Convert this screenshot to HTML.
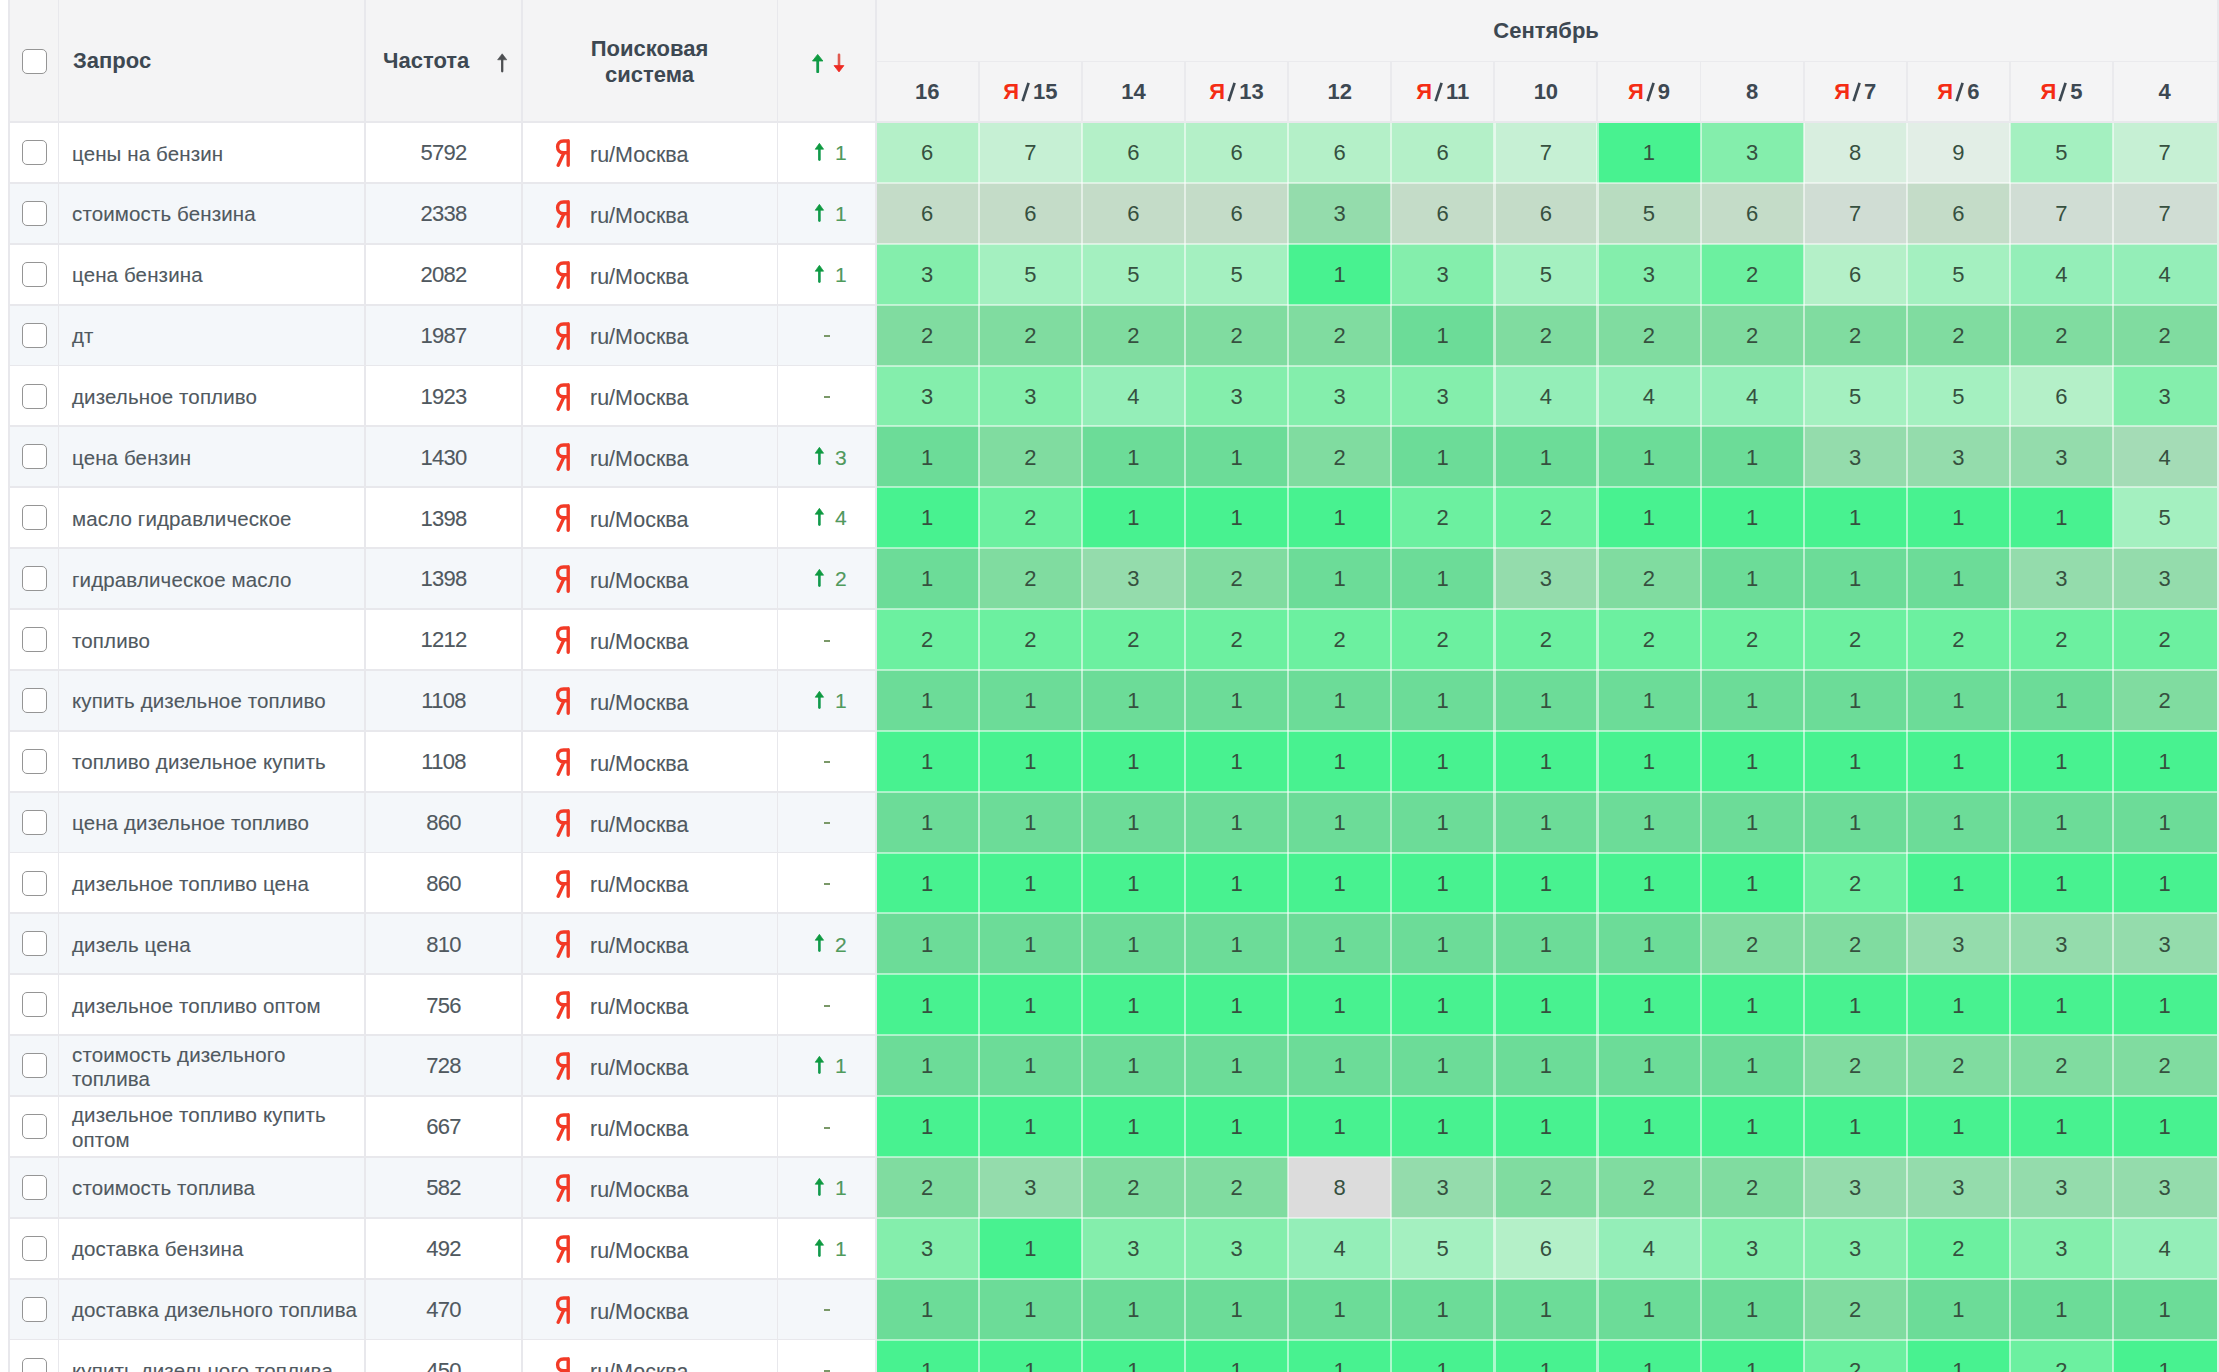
<!DOCTYPE html><html><head><meta charset="utf-8"><style>
html,body{margin:0;padding:0;background:#fff;width:2219px;height:1372px;overflow:hidden;position:relative}
*{box-sizing:border-box}
body{font-family:"Liberation Sans",sans-serif;}
.a{position:absolute}
.hb{position:absolute;background:#f4f4f5}
.vl{position:absolute;width:1.9px;background:#e8e8ec}
.hl{position:absolute;height:1.9px;background:#e8e8ec}
.cb{position:absolute;width:25px;height:25px;border:1.8px solid #959595;border-radius:5px;background:#fff}
.ht{position:absolute;font-weight:700;font-size:22px;color:#3d4852;white-space:nowrap;line-height:26px}
.bt{position:absolute;font-size:20.5px;color:#50595f;white-space:nowrap;line-height:24px;-webkit-text-stroke:0.1px #50595f}
.c{position:absolute;text-align:center;font-size:22px;color:#36503f;line-height:24px}
.ya{position:absolute;width:16px;height:28px}
.red{color:#f42c14}

</style></head><body>
<div class="hb" style="left:9px;top:0;width:2208px;height:122px"></div>
<div class="a" style="left:9px;top:122.00px;width:867px;height:60.88px;background:#ffffff"></div>
<div class="a" style="left:9px;top:182.88px;width:867px;height:60.88px;background:#f4f7fa"></div>
<div class="a" style="left:9px;top:243.76px;width:867px;height:60.88px;background:#ffffff"></div>
<div class="a" style="left:9px;top:304.64px;width:867px;height:60.88px;background:#f4f7fa"></div>
<div class="a" style="left:9px;top:365.52px;width:867px;height:60.88px;background:#ffffff"></div>
<div class="a" style="left:9px;top:426.40px;width:867px;height:60.88px;background:#f4f7fa"></div>
<div class="a" style="left:9px;top:487.28px;width:867px;height:60.88px;background:#ffffff"></div>
<div class="a" style="left:9px;top:548.16px;width:867px;height:60.88px;background:#f4f7fa"></div>
<div class="a" style="left:9px;top:609.04px;width:867px;height:60.88px;background:#ffffff"></div>
<div class="a" style="left:9px;top:669.92px;width:867px;height:60.88px;background:#f4f7fa"></div>
<div class="a" style="left:9px;top:730.80px;width:867px;height:60.88px;background:#ffffff"></div>
<div class="a" style="left:9px;top:791.68px;width:867px;height:60.88px;background:#f4f7fa"></div>
<div class="a" style="left:9px;top:852.56px;width:867px;height:60.88px;background:#ffffff"></div>
<div class="a" style="left:9px;top:913.44px;width:867px;height:60.88px;background:#f4f7fa"></div>
<div class="a" style="left:9px;top:974.32px;width:867px;height:60.88px;background:#ffffff"></div>
<div class="a" style="left:9px;top:1035.20px;width:867px;height:60.88px;background:#f4f7fa"></div>
<div class="a" style="left:9px;top:1096.08px;width:867px;height:60.88px;background:#ffffff"></div>
<div class="a" style="left:9px;top:1156.96px;width:867px;height:60.88px;background:#f4f7fa"></div>
<div class="a" style="left:9px;top:1217.84px;width:867px;height:60.88px;background:#ffffff"></div>
<div class="a" style="left:9px;top:1278.72px;width:867px;height:60.88px;background:#f4f7fa"></div>
<div class="a" style="left:9px;top:1339.60px;width:867px;height:60.88px;background:#ffffff"></div>
<div class="a" style="left:875.60px;top:122.00px;width:103.12px;height:60.88px;background:#b4f0c8"></div>
<div class="a" style="left:978.72px;top:122.00px;width:103.12px;height:60.88px;background:#c6f0d4"></div>
<div class="a" style="left:1081.84px;top:122.00px;width:103.12px;height:60.88px;background:#b4f0c8"></div>
<div class="a" style="left:1184.96px;top:122.00px;width:103.12px;height:60.88px;background:#b4f0c8"></div>
<div class="a" style="left:1288.08px;top:122.00px;width:103.12px;height:60.88px;background:#b4f0c8"></div>
<div class="a" style="left:1391.20px;top:122.00px;width:103.12px;height:60.88px;background:#b4f0c8"></div>
<div class="a" style="left:1494.32px;top:122.00px;width:103.12px;height:60.88px;background:#c6f0d4"></div>
<div class="a" style="left:1597.44px;top:122.00px;width:103.12px;height:60.88px;background:#48f290"></div>
<div class="a" style="left:1700.56px;top:122.00px;width:103.12px;height:60.88px;background:#84eeac"></div>
<div class="a" style="left:1803.68px;top:122.00px;width:103.12px;height:60.88px;background:#d8eedf"></div>
<div class="a" style="left:1906.80px;top:122.00px;width:103.12px;height:60.88px;background:#e2eee6"></div>
<div class="a" style="left:2009.92px;top:122.00px;width:103.12px;height:60.88px;background:#a4f0c0"></div>
<div class="a" style="left:2113.04px;top:122.00px;width:103.96px;height:60.88px;background:#c6f0d4"></div>
<div class="a" style="left:875.60px;top:182.88px;width:103.12px;height:60.88px;background:#c4dcc8"></div>
<div class="a" style="left:978.72px;top:182.88px;width:103.12px;height:60.88px;background:#c4dcc8"></div>
<div class="a" style="left:1081.84px;top:182.88px;width:103.12px;height:60.88px;background:#c4dcc8"></div>
<div class="a" style="left:1184.96px;top:182.88px;width:103.12px;height:60.88px;background:#c4dcc8"></div>
<div class="a" style="left:1288.08px;top:182.88px;width:103.12px;height:60.88px;background:#94dcac"></div>
<div class="a" style="left:1391.20px;top:182.88px;width:103.12px;height:60.88px;background:#c4dcc8"></div>
<div class="a" style="left:1494.32px;top:182.88px;width:103.12px;height:60.88px;background:#c4dcc8"></div>
<div class="a" style="left:1597.44px;top:182.88px;width:103.12px;height:60.88px;background:#b8dcc0"></div>
<div class="a" style="left:1700.56px;top:182.88px;width:103.12px;height:60.88px;background:#c4dcc8"></div>
<div class="a" style="left:1803.68px;top:182.88px;width:103.12px;height:60.88px;background:#d0ddd4"></div>
<div class="a" style="left:1906.80px;top:182.88px;width:103.12px;height:60.88px;background:#c4dcc8"></div>
<div class="a" style="left:2009.92px;top:182.88px;width:103.12px;height:60.88px;background:#d0ddd4"></div>
<div class="a" style="left:2113.04px;top:182.88px;width:103.96px;height:60.88px;background:#d0ddd4"></div>
<div class="a" style="left:875.60px;top:243.76px;width:103.12px;height:60.88px;background:#84eeac"></div>
<div class="a" style="left:978.72px;top:243.76px;width:103.12px;height:60.88px;background:#a4f0c0"></div>
<div class="a" style="left:1081.84px;top:243.76px;width:103.12px;height:60.88px;background:#a4f0c0"></div>
<div class="a" style="left:1184.96px;top:243.76px;width:103.12px;height:60.88px;background:#a4f0c0"></div>
<div class="a" style="left:1288.08px;top:243.76px;width:103.12px;height:60.88px;background:#48f290"></div>
<div class="a" style="left:1391.20px;top:243.76px;width:103.12px;height:60.88px;background:#84eeac"></div>
<div class="a" style="left:1494.32px;top:243.76px;width:103.12px;height:60.88px;background:#a4f0c0"></div>
<div class="a" style="left:1597.44px;top:243.76px;width:103.12px;height:60.88px;background:#84eeac"></div>
<div class="a" style="left:1700.56px;top:243.76px;width:103.12px;height:60.88px;background:#6cf0a0"></div>
<div class="a" style="left:1803.68px;top:243.76px;width:103.12px;height:60.88px;background:#b4f0c8"></div>
<div class="a" style="left:1906.80px;top:243.76px;width:103.12px;height:60.88px;background:#a4f0c0"></div>
<div class="a" style="left:2009.92px;top:243.76px;width:103.12px;height:60.88px;background:#94eeb8"></div>
<div class="a" style="left:2113.04px;top:243.76px;width:103.96px;height:60.88px;background:#94eeb8"></div>
<div class="a" style="left:875.60px;top:304.64px;width:103.12px;height:60.88px;background:#80dca0"></div>
<div class="a" style="left:978.72px;top:304.64px;width:103.12px;height:60.88px;background:#80dca0"></div>
<div class="a" style="left:1081.84px;top:304.64px;width:103.12px;height:60.88px;background:#80dca0"></div>
<div class="a" style="left:1184.96px;top:304.64px;width:103.12px;height:60.88px;background:#80dca0"></div>
<div class="a" style="left:1288.08px;top:304.64px;width:103.12px;height:60.88px;background:#80dca0"></div>
<div class="a" style="left:1391.20px;top:304.64px;width:103.12px;height:60.88px;background:#6cdc98"></div>
<div class="a" style="left:1494.32px;top:304.64px;width:103.12px;height:60.88px;background:#80dca0"></div>
<div class="a" style="left:1597.44px;top:304.64px;width:103.12px;height:60.88px;background:#80dca0"></div>
<div class="a" style="left:1700.56px;top:304.64px;width:103.12px;height:60.88px;background:#80dca0"></div>
<div class="a" style="left:1803.68px;top:304.64px;width:103.12px;height:60.88px;background:#80dca0"></div>
<div class="a" style="left:1906.80px;top:304.64px;width:103.12px;height:60.88px;background:#80dca0"></div>
<div class="a" style="left:2009.92px;top:304.64px;width:103.12px;height:60.88px;background:#80dca0"></div>
<div class="a" style="left:2113.04px;top:304.64px;width:103.96px;height:60.88px;background:#80dca0"></div>
<div class="a" style="left:875.60px;top:365.52px;width:103.12px;height:60.88px;background:#84eeac"></div>
<div class="a" style="left:978.72px;top:365.52px;width:103.12px;height:60.88px;background:#84eeac"></div>
<div class="a" style="left:1081.84px;top:365.52px;width:103.12px;height:60.88px;background:#94eeb8"></div>
<div class="a" style="left:1184.96px;top:365.52px;width:103.12px;height:60.88px;background:#84eeac"></div>
<div class="a" style="left:1288.08px;top:365.52px;width:103.12px;height:60.88px;background:#84eeac"></div>
<div class="a" style="left:1391.20px;top:365.52px;width:103.12px;height:60.88px;background:#84eeac"></div>
<div class="a" style="left:1494.32px;top:365.52px;width:103.12px;height:60.88px;background:#94eeb8"></div>
<div class="a" style="left:1597.44px;top:365.52px;width:103.12px;height:60.88px;background:#94eeb8"></div>
<div class="a" style="left:1700.56px;top:365.52px;width:103.12px;height:60.88px;background:#94eeb8"></div>
<div class="a" style="left:1803.68px;top:365.52px;width:103.12px;height:60.88px;background:#a4f0c0"></div>
<div class="a" style="left:1906.80px;top:365.52px;width:103.12px;height:60.88px;background:#a4f0c0"></div>
<div class="a" style="left:2009.92px;top:365.52px;width:103.12px;height:60.88px;background:#b4f0c8"></div>
<div class="a" style="left:2113.04px;top:365.52px;width:103.96px;height:60.88px;background:#84eeac"></div>
<div class="a" style="left:875.60px;top:426.40px;width:103.12px;height:60.88px;background:#6cdc98"></div>
<div class="a" style="left:978.72px;top:426.40px;width:103.12px;height:60.88px;background:#80dca0"></div>
<div class="a" style="left:1081.84px;top:426.40px;width:103.12px;height:60.88px;background:#6cdc98"></div>
<div class="a" style="left:1184.96px;top:426.40px;width:103.12px;height:60.88px;background:#6cdc98"></div>
<div class="a" style="left:1288.08px;top:426.40px;width:103.12px;height:60.88px;background:#80dca0"></div>
<div class="a" style="left:1391.20px;top:426.40px;width:103.12px;height:60.88px;background:#6cdc98"></div>
<div class="a" style="left:1494.32px;top:426.40px;width:103.12px;height:60.88px;background:#6cdc98"></div>
<div class="a" style="left:1597.44px;top:426.40px;width:103.12px;height:60.88px;background:#6cdc98"></div>
<div class="a" style="left:1700.56px;top:426.40px;width:103.12px;height:60.88px;background:#6cdc98"></div>
<div class="a" style="left:1803.68px;top:426.40px;width:103.12px;height:60.88px;background:#94dcac"></div>
<div class="a" style="left:1906.80px;top:426.40px;width:103.12px;height:60.88px;background:#94dcac"></div>
<div class="a" style="left:2009.92px;top:426.40px;width:103.12px;height:60.88px;background:#94dcac"></div>
<div class="a" style="left:2113.04px;top:426.40px;width:103.96px;height:60.88px;background:#a4dcb6"></div>
<div class="a" style="left:875.60px;top:487.28px;width:103.12px;height:60.88px;background:#48f290"></div>
<div class="a" style="left:978.72px;top:487.28px;width:103.12px;height:60.88px;background:#6cf0a0"></div>
<div class="a" style="left:1081.84px;top:487.28px;width:103.12px;height:60.88px;background:#48f290"></div>
<div class="a" style="left:1184.96px;top:487.28px;width:103.12px;height:60.88px;background:#48f290"></div>
<div class="a" style="left:1288.08px;top:487.28px;width:103.12px;height:60.88px;background:#48f290"></div>
<div class="a" style="left:1391.20px;top:487.28px;width:103.12px;height:60.88px;background:#6cf0a0"></div>
<div class="a" style="left:1494.32px;top:487.28px;width:103.12px;height:60.88px;background:#6cf0a0"></div>
<div class="a" style="left:1597.44px;top:487.28px;width:103.12px;height:60.88px;background:#48f290"></div>
<div class="a" style="left:1700.56px;top:487.28px;width:103.12px;height:60.88px;background:#48f290"></div>
<div class="a" style="left:1803.68px;top:487.28px;width:103.12px;height:60.88px;background:#48f290"></div>
<div class="a" style="left:1906.80px;top:487.28px;width:103.12px;height:60.88px;background:#48f290"></div>
<div class="a" style="left:2009.92px;top:487.28px;width:103.12px;height:60.88px;background:#48f290"></div>
<div class="a" style="left:2113.04px;top:487.28px;width:103.96px;height:60.88px;background:#a4f0c0"></div>
<div class="a" style="left:875.60px;top:548.16px;width:103.12px;height:60.88px;background:#6cdc98"></div>
<div class="a" style="left:978.72px;top:548.16px;width:103.12px;height:60.88px;background:#80dca0"></div>
<div class="a" style="left:1081.84px;top:548.16px;width:103.12px;height:60.88px;background:#94dcac"></div>
<div class="a" style="left:1184.96px;top:548.16px;width:103.12px;height:60.88px;background:#80dca0"></div>
<div class="a" style="left:1288.08px;top:548.16px;width:103.12px;height:60.88px;background:#6cdc98"></div>
<div class="a" style="left:1391.20px;top:548.16px;width:103.12px;height:60.88px;background:#6cdc98"></div>
<div class="a" style="left:1494.32px;top:548.16px;width:103.12px;height:60.88px;background:#94dcac"></div>
<div class="a" style="left:1597.44px;top:548.16px;width:103.12px;height:60.88px;background:#80dca0"></div>
<div class="a" style="left:1700.56px;top:548.16px;width:103.12px;height:60.88px;background:#6cdc98"></div>
<div class="a" style="left:1803.68px;top:548.16px;width:103.12px;height:60.88px;background:#6cdc98"></div>
<div class="a" style="left:1906.80px;top:548.16px;width:103.12px;height:60.88px;background:#6cdc98"></div>
<div class="a" style="left:2009.92px;top:548.16px;width:103.12px;height:60.88px;background:#94dcac"></div>
<div class="a" style="left:2113.04px;top:548.16px;width:103.96px;height:60.88px;background:#94dcac"></div>
<div class="a" style="left:875.60px;top:609.04px;width:103.12px;height:60.88px;background:#6cf0a0"></div>
<div class="a" style="left:978.72px;top:609.04px;width:103.12px;height:60.88px;background:#6cf0a0"></div>
<div class="a" style="left:1081.84px;top:609.04px;width:103.12px;height:60.88px;background:#6cf0a0"></div>
<div class="a" style="left:1184.96px;top:609.04px;width:103.12px;height:60.88px;background:#6cf0a0"></div>
<div class="a" style="left:1288.08px;top:609.04px;width:103.12px;height:60.88px;background:#6cf0a0"></div>
<div class="a" style="left:1391.20px;top:609.04px;width:103.12px;height:60.88px;background:#6cf0a0"></div>
<div class="a" style="left:1494.32px;top:609.04px;width:103.12px;height:60.88px;background:#6cf0a0"></div>
<div class="a" style="left:1597.44px;top:609.04px;width:103.12px;height:60.88px;background:#6cf0a0"></div>
<div class="a" style="left:1700.56px;top:609.04px;width:103.12px;height:60.88px;background:#6cf0a0"></div>
<div class="a" style="left:1803.68px;top:609.04px;width:103.12px;height:60.88px;background:#6cf0a0"></div>
<div class="a" style="left:1906.80px;top:609.04px;width:103.12px;height:60.88px;background:#6cf0a0"></div>
<div class="a" style="left:2009.92px;top:609.04px;width:103.12px;height:60.88px;background:#6cf0a0"></div>
<div class="a" style="left:2113.04px;top:609.04px;width:103.96px;height:60.88px;background:#6cf0a0"></div>
<div class="a" style="left:875.60px;top:669.92px;width:103.12px;height:60.88px;background:#6cdc98"></div>
<div class="a" style="left:978.72px;top:669.92px;width:103.12px;height:60.88px;background:#6cdc98"></div>
<div class="a" style="left:1081.84px;top:669.92px;width:103.12px;height:60.88px;background:#6cdc98"></div>
<div class="a" style="left:1184.96px;top:669.92px;width:103.12px;height:60.88px;background:#6cdc98"></div>
<div class="a" style="left:1288.08px;top:669.92px;width:103.12px;height:60.88px;background:#6cdc98"></div>
<div class="a" style="left:1391.20px;top:669.92px;width:103.12px;height:60.88px;background:#6cdc98"></div>
<div class="a" style="left:1494.32px;top:669.92px;width:103.12px;height:60.88px;background:#6cdc98"></div>
<div class="a" style="left:1597.44px;top:669.92px;width:103.12px;height:60.88px;background:#6cdc98"></div>
<div class="a" style="left:1700.56px;top:669.92px;width:103.12px;height:60.88px;background:#6cdc98"></div>
<div class="a" style="left:1803.68px;top:669.92px;width:103.12px;height:60.88px;background:#6cdc98"></div>
<div class="a" style="left:1906.80px;top:669.92px;width:103.12px;height:60.88px;background:#6cdc98"></div>
<div class="a" style="left:2009.92px;top:669.92px;width:103.12px;height:60.88px;background:#6cdc98"></div>
<div class="a" style="left:2113.04px;top:669.92px;width:103.96px;height:60.88px;background:#80dca0"></div>
<div class="a" style="left:875.60px;top:730.80px;width:103.12px;height:60.88px;background:#48f290"></div>
<div class="a" style="left:978.72px;top:730.80px;width:103.12px;height:60.88px;background:#48f290"></div>
<div class="a" style="left:1081.84px;top:730.80px;width:103.12px;height:60.88px;background:#48f290"></div>
<div class="a" style="left:1184.96px;top:730.80px;width:103.12px;height:60.88px;background:#48f290"></div>
<div class="a" style="left:1288.08px;top:730.80px;width:103.12px;height:60.88px;background:#48f290"></div>
<div class="a" style="left:1391.20px;top:730.80px;width:103.12px;height:60.88px;background:#48f290"></div>
<div class="a" style="left:1494.32px;top:730.80px;width:103.12px;height:60.88px;background:#48f290"></div>
<div class="a" style="left:1597.44px;top:730.80px;width:103.12px;height:60.88px;background:#48f290"></div>
<div class="a" style="left:1700.56px;top:730.80px;width:103.12px;height:60.88px;background:#48f290"></div>
<div class="a" style="left:1803.68px;top:730.80px;width:103.12px;height:60.88px;background:#48f290"></div>
<div class="a" style="left:1906.80px;top:730.80px;width:103.12px;height:60.88px;background:#48f290"></div>
<div class="a" style="left:2009.92px;top:730.80px;width:103.12px;height:60.88px;background:#48f290"></div>
<div class="a" style="left:2113.04px;top:730.80px;width:103.96px;height:60.88px;background:#48f290"></div>
<div class="a" style="left:875.60px;top:791.68px;width:103.12px;height:60.88px;background:#6cdc98"></div>
<div class="a" style="left:978.72px;top:791.68px;width:103.12px;height:60.88px;background:#6cdc98"></div>
<div class="a" style="left:1081.84px;top:791.68px;width:103.12px;height:60.88px;background:#6cdc98"></div>
<div class="a" style="left:1184.96px;top:791.68px;width:103.12px;height:60.88px;background:#6cdc98"></div>
<div class="a" style="left:1288.08px;top:791.68px;width:103.12px;height:60.88px;background:#6cdc98"></div>
<div class="a" style="left:1391.20px;top:791.68px;width:103.12px;height:60.88px;background:#6cdc98"></div>
<div class="a" style="left:1494.32px;top:791.68px;width:103.12px;height:60.88px;background:#6cdc98"></div>
<div class="a" style="left:1597.44px;top:791.68px;width:103.12px;height:60.88px;background:#6cdc98"></div>
<div class="a" style="left:1700.56px;top:791.68px;width:103.12px;height:60.88px;background:#6cdc98"></div>
<div class="a" style="left:1803.68px;top:791.68px;width:103.12px;height:60.88px;background:#6cdc98"></div>
<div class="a" style="left:1906.80px;top:791.68px;width:103.12px;height:60.88px;background:#6cdc98"></div>
<div class="a" style="left:2009.92px;top:791.68px;width:103.12px;height:60.88px;background:#6cdc98"></div>
<div class="a" style="left:2113.04px;top:791.68px;width:103.96px;height:60.88px;background:#6cdc98"></div>
<div class="a" style="left:875.60px;top:852.56px;width:103.12px;height:60.88px;background:#48f290"></div>
<div class="a" style="left:978.72px;top:852.56px;width:103.12px;height:60.88px;background:#48f290"></div>
<div class="a" style="left:1081.84px;top:852.56px;width:103.12px;height:60.88px;background:#48f290"></div>
<div class="a" style="left:1184.96px;top:852.56px;width:103.12px;height:60.88px;background:#48f290"></div>
<div class="a" style="left:1288.08px;top:852.56px;width:103.12px;height:60.88px;background:#48f290"></div>
<div class="a" style="left:1391.20px;top:852.56px;width:103.12px;height:60.88px;background:#48f290"></div>
<div class="a" style="left:1494.32px;top:852.56px;width:103.12px;height:60.88px;background:#48f290"></div>
<div class="a" style="left:1597.44px;top:852.56px;width:103.12px;height:60.88px;background:#48f290"></div>
<div class="a" style="left:1700.56px;top:852.56px;width:103.12px;height:60.88px;background:#48f290"></div>
<div class="a" style="left:1803.68px;top:852.56px;width:103.12px;height:60.88px;background:#6cf0a0"></div>
<div class="a" style="left:1906.80px;top:852.56px;width:103.12px;height:60.88px;background:#48f290"></div>
<div class="a" style="left:2009.92px;top:852.56px;width:103.12px;height:60.88px;background:#48f290"></div>
<div class="a" style="left:2113.04px;top:852.56px;width:103.96px;height:60.88px;background:#48f290"></div>
<div class="a" style="left:875.60px;top:913.44px;width:103.12px;height:60.88px;background:#6cdc98"></div>
<div class="a" style="left:978.72px;top:913.44px;width:103.12px;height:60.88px;background:#6cdc98"></div>
<div class="a" style="left:1081.84px;top:913.44px;width:103.12px;height:60.88px;background:#6cdc98"></div>
<div class="a" style="left:1184.96px;top:913.44px;width:103.12px;height:60.88px;background:#6cdc98"></div>
<div class="a" style="left:1288.08px;top:913.44px;width:103.12px;height:60.88px;background:#6cdc98"></div>
<div class="a" style="left:1391.20px;top:913.44px;width:103.12px;height:60.88px;background:#6cdc98"></div>
<div class="a" style="left:1494.32px;top:913.44px;width:103.12px;height:60.88px;background:#6cdc98"></div>
<div class="a" style="left:1597.44px;top:913.44px;width:103.12px;height:60.88px;background:#6cdc98"></div>
<div class="a" style="left:1700.56px;top:913.44px;width:103.12px;height:60.88px;background:#80dca0"></div>
<div class="a" style="left:1803.68px;top:913.44px;width:103.12px;height:60.88px;background:#80dca0"></div>
<div class="a" style="left:1906.80px;top:913.44px;width:103.12px;height:60.88px;background:#94dcac"></div>
<div class="a" style="left:2009.92px;top:913.44px;width:103.12px;height:60.88px;background:#94dcac"></div>
<div class="a" style="left:2113.04px;top:913.44px;width:103.96px;height:60.88px;background:#94dcac"></div>
<div class="a" style="left:875.60px;top:974.32px;width:103.12px;height:60.88px;background:#48f290"></div>
<div class="a" style="left:978.72px;top:974.32px;width:103.12px;height:60.88px;background:#48f290"></div>
<div class="a" style="left:1081.84px;top:974.32px;width:103.12px;height:60.88px;background:#48f290"></div>
<div class="a" style="left:1184.96px;top:974.32px;width:103.12px;height:60.88px;background:#48f290"></div>
<div class="a" style="left:1288.08px;top:974.32px;width:103.12px;height:60.88px;background:#48f290"></div>
<div class="a" style="left:1391.20px;top:974.32px;width:103.12px;height:60.88px;background:#48f290"></div>
<div class="a" style="left:1494.32px;top:974.32px;width:103.12px;height:60.88px;background:#48f290"></div>
<div class="a" style="left:1597.44px;top:974.32px;width:103.12px;height:60.88px;background:#48f290"></div>
<div class="a" style="left:1700.56px;top:974.32px;width:103.12px;height:60.88px;background:#48f290"></div>
<div class="a" style="left:1803.68px;top:974.32px;width:103.12px;height:60.88px;background:#48f290"></div>
<div class="a" style="left:1906.80px;top:974.32px;width:103.12px;height:60.88px;background:#48f290"></div>
<div class="a" style="left:2009.92px;top:974.32px;width:103.12px;height:60.88px;background:#48f290"></div>
<div class="a" style="left:2113.04px;top:974.32px;width:103.96px;height:60.88px;background:#48f290"></div>
<div class="a" style="left:875.60px;top:1035.20px;width:103.12px;height:60.88px;background:#6cdc98"></div>
<div class="a" style="left:978.72px;top:1035.20px;width:103.12px;height:60.88px;background:#6cdc98"></div>
<div class="a" style="left:1081.84px;top:1035.20px;width:103.12px;height:60.88px;background:#6cdc98"></div>
<div class="a" style="left:1184.96px;top:1035.20px;width:103.12px;height:60.88px;background:#6cdc98"></div>
<div class="a" style="left:1288.08px;top:1035.20px;width:103.12px;height:60.88px;background:#6cdc98"></div>
<div class="a" style="left:1391.20px;top:1035.20px;width:103.12px;height:60.88px;background:#6cdc98"></div>
<div class="a" style="left:1494.32px;top:1035.20px;width:103.12px;height:60.88px;background:#6cdc98"></div>
<div class="a" style="left:1597.44px;top:1035.20px;width:103.12px;height:60.88px;background:#6cdc98"></div>
<div class="a" style="left:1700.56px;top:1035.20px;width:103.12px;height:60.88px;background:#6cdc98"></div>
<div class="a" style="left:1803.68px;top:1035.20px;width:103.12px;height:60.88px;background:#80dca0"></div>
<div class="a" style="left:1906.80px;top:1035.20px;width:103.12px;height:60.88px;background:#80dca0"></div>
<div class="a" style="left:2009.92px;top:1035.20px;width:103.12px;height:60.88px;background:#80dca0"></div>
<div class="a" style="left:2113.04px;top:1035.20px;width:103.96px;height:60.88px;background:#80dca0"></div>
<div class="a" style="left:875.60px;top:1096.08px;width:103.12px;height:60.88px;background:#48f290"></div>
<div class="a" style="left:978.72px;top:1096.08px;width:103.12px;height:60.88px;background:#48f290"></div>
<div class="a" style="left:1081.84px;top:1096.08px;width:103.12px;height:60.88px;background:#48f290"></div>
<div class="a" style="left:1184.96px;top:1096.08px;width:103.12px;height:60.88px;background:#48f290"></div>
<div class="a" style="left:1288.08px;top:1096.08px;width:103.12px;height:60.88px;background:#48f290"></div>
<div class="a" style="left:1391.20px;top:1096.08px;width:103.12px;height:60.88px;background:#48f290"></div>
<div class="a" style="left:1494.32px;top:1096.08px;width:103.12px;height:60.88px;background:#48f290"></div>
<div class="a" style="left:1597.44px;top:1096.08px;width:103.12px;height:60.88px;background:#48f290"></div>
<div class="a" style="left:1700.56px;top:1096.08px;width:103.12px;height:60.88px;background:#48f290"></div>
<div class="a" style="left:1803.68px;top:1096.08px;width:103.12px;height:60.88px;background:#48f290"></div>
<div class="a" style="left:1906.80px;top:1096.08px;width:103.12px;height:60.88px;background:#48f290"></div>
<div class="a" style="left:2009.92px;top:1096.08px;width:103.12px;height:60.88px;background:#48f290"></div>
<div class="a" style="left:2113.04px;top:1096.08px;width:103.96px;height:60.88px;background:#48f290"></div>
<div class="a" style="left:875.60px;top:1156.96px;width:103.12px;height:60.88px;background:#80dca0"></div>
<div class="a" style="left:978.72px;top:1156.96px;width:103.12px;height:60.88px;background:#94dcac"></div>
<div class="a" style="left:1081.84px;top:1156.96px;width:103.12px;height:60.88px;background:#80dca0"></div>
<div class="a" style="left:1184.96px;top:1156.96px;width:103.12px;height:60.88px;background:#80dca0"></div>
<div class="a" style="left:1288.08px;top:1156.96px;width:103.12px;height:60.88px;background:#dcdcdc"></div>
<div class="a" style="left:1391.20px;top:1156.96px;width:103.12px;height:60.88px;background:#94dcac"></div>
<div class="a" style="left:1494.32px;top:1156.96px;width:103.12px;height:60.88px;background:#80dca0"></div>
<div class="a" style="left:1597.44px;top:1156.96px;width:103.12px;height:60.88px;background:#80dca0"></div>
<div class="a" style="left:1700.56px;top:1156.96px;width:103.12px;height:60.88px;background:#80dca0"></div>
<div class="a" style="left:1803.68px;top:1156.96px;width:103.12px;height:60.88px;background:#94dcac"></div>
<div class="a" style="left:1906.80px;top:1156.96px;width:103.12px;height:60.88px;background:#94dcac"></div>
<div class="a" style="left:2009.92px;top:1156.96px;width:103.12px;height:60.88px;background:#94dcac"></div>
<div class="a" style="left:2113.04px;top:1156.96px;width:103.96px;height:60.88px;background:#94dcac"></div>
<div class="a" style="left:875.60px;top:1217.84px;width:103.12px;height:60.88px;background:#84eeac"></div>
<div class="a" style="left:978.72px;top:1217.84px;width:103.12px;height:60.88px;background:#48f290"></div>
<div class="a" style="left:1081.84px;top:1217.84px;width:103.12px;height:60.88px;background:#84eeac"></div>
<div class="a" style="left:1184.96px;top:1217.84px;width:103.12px;height:60.88px;background:#84eeac"></div>
<div class="a" style="left:1288.08px;top:1217.84px;width:103.12px;height:60.88px;background:#94eeb8"></div>
<div class="a" style="left:1391.20px;top:1217.84px;width:103.12px;height:60.88px;background:#a4f0c0"></div>
<div class="a" style="left:1494.32px;top:1217.84px;width:103.12px;height:60.88px;background:#b4f0c8"></div>
<div class="a" style="left:1597.44px;top:1217.84px;width:103.12px;height:60.88px;background:#94eeb8"></div>
<div class="a" style="left:1700.56px;top:1217.84px;width:103.12px;height:60.88px;background:#84eeac"></div>
<div class="a" style="left:1803.68px;top:1217.84px;width:103.12px;height:60.88px;background:#84eeac"></div>
<div class="a" style="left:1906.80px;top:1217.84px;width:103.12px;height:60.88px;background:#6cf0a0"></div>
<div class="a" style="left:2009.92px;top:1217.84px;width:103.12px;height:60.88px;background:#84eeac"></div>
<div class="a" style="left:2113.04px;top:1217.84px;width:103.96px;height:60.88px;background:#94eeb8"></div>
<div class="a" style="left:875.60px;top:1278.72px;width:103.12px;height:60.88px;background:#6cdc98"></div>
<div class="a" style="left:978.72px;top:1278.72px;width:103.12px;height:60.88px;background:#6cdc98"></div>
<div class="a" style="left:1081.84px;top:1278.72px;width:103.12px;height:60.88px;background:#6cdc98"></div>
<div class="a" style="left:1184.96px;top:1278.72px;width:103.12px;height:60.88px;background:#6cdc98"></div>
<div class="a" style="left:1288.08px;top:1278.72px;width:103.12px;height:60.88px;background:#6cdc98"></div>
<div class="a" style="left:1391.20px;top:1278.72px;width:103.12px;height:60.88px;background:#6cdc98"></div>
<div class="a" style="left:1494.32px;top:1278.72px;width:103.12px;height:60.88px;background:#6cdc98"></div>
<div class="a" style="left:1597.44px;top:1278.72px;width:103.12px;height:60.88px;background:#6cdc98"></div>
<div class="a" style="left:1700.56px;top:1278.72px;width:103.12px;height:60.88px;background:#6cdc98"></div>
<div class="a" style="left:1803.68px;top:1278.72px;width:103.12px;height:60.88px;background:#80dca0"></div>
<div class="a" style="left:1906.80px;top:1278.72px;width:103.12px;height:60.88px;background:#6cdc98"></div>
<div class="a" style="left:2009.92px;top:1278.72px;width:103.12px;height:60.88px;background:#6cdc98"></div>
<div class="a" style="left:2113.04px;top:1278.72px;width:103.96px;height:60.88px;background:#6cdc98"></div>
<div class="a" style="left:875.60px;top:1339.60px;width:103.12px;height:60.88px;background:#48f290"></div>
<div class="a" style="left:978.72px;top:1339.60px;width:103.12px;height:60.88px;background:#48f290"></div>
<div class="a" style="left:1081.84px;top:1339.60px;width:103.12px;height:60.88px;background:#48f290"></div>
<div class="a" style="left:1184.96px;top:1339.60px;width:103.12px;height:60.88px;background:#48f290"></div>
<div class="a" style="left:1288.08px;top:1339.60px;width:103.12px;height:60.88px;background:#48f290"></div>
<div class="a" style="left:1391.20px;top:1339.60px;width:103.12px;height:60.88px;background:#48f290"></div>
<div class="a" style="left:1494.32px;top:1339.60px;width:103.12px;height:60.88px;background:#48f290"></div>
<div class="a" style="left:1597.44px;top:1339.60px;width:103.12px;height:60.88px;background:#48f290"></div>
<div class="a" style="left:1700.56px;top:1339.60px;width:103.12px;height:60.88px;background:#48f290"></div>
<div class="a" style="left:1803.68px;top:1339.60px;width:103.12px;height:60.88px;background:#6cf0a0"></div>
<div class="a" style="left:1906.80px;top:1339.60px;width:103.12px;height:60.88px;background:#48f290"></div>
<div class="a" style="left:2009.92px;top:1339.60px;width:103.12px;height:60.88px;background:#6cf0a0"></div>
<div class="a" style="left:2113.04px;top:1339.60px;width:103.96px;height:60.88px;background:#48f290"></div>
<div class="a" style="left:977.72px;top:122.00px;width:2.3px;height:1300px;background:rgba(255,255,255,0.55)"></div>
<div class="a" style="left:1080.84px;top:122.00px;width:2.3px;height:1300px;background:rgba(255,255,255,0.55)"></div>
<div class="a" style="left:1183.96px;top:122.00px;width:2.3px;height:1300px;background:rgba(255,255,255,0.55)"></div>
<div class="a" style="left:1287.08px;top:122.00px;width:2.3px;height:1300px;background:rgba(255,255,255,0.55)"></div>
<div class="a" style="left:1390.20px;top:122.00px;width:2.3px;height:1300px;background:rgba(255,255,255,0.55)"></div>
<div class="a" style="left:1493.32px;top:122.00px;width:2.3px;height:1300px;background:rgba(255,255,255,0.55)"></div>
<div class="a" style="left:1596.44px;top:122.00px;width:2.3px;height:1300px;background:rgba(255,255,255,0.55)"></div>
<div class="a" style="left:1699.56px;top:122.00px;width:2.3px;height:1300px;background:rgba(255,255,255,0.55)"></div>
<div class="a" style="left:1802.68px;top:122.00px;width:2.3px;height:1300px;background:rgba(255,255,255,0.55)"></div>
<div class="a" style="left:1905.80px;top:122.00px;width:2.3px;height:1300px;background:rgba(255,255,255,0.55)"></div>
<div class="a" style="left:2008.92px;top:122.00px;width:2.3px;height:1300px;background:rgba(255,255,255,0.55)"></div>
<div class="a" style="left:2112.04px;top:122.00px;width:2.3px;height:1300px;background:rgba(255,255,255,0.55)"></div>
<div class="a" style="left:875.60px;top:181.88px;width:1341px;height:2px;background:rgba(255,255,255,0.5)"></div>
<div class="a" style="left:875.60px;top:242.76px;width:1341px;height:2px;background:rgba(255,255,255,0.5)"></div>
<div class="a" style="left:875.60px;top:303.64px;width:1341px;height:2px;background:rgba(255,255,255,0.5)"></div>
<div class="a" style="left:875.60px;top:364.52px;width:1341px;height:2px;background:rgba(255,255,255,0.5)"></div>
<div class="a" style="left:875.60px;top:425.40px;width:1341px;height:2px;background:rgba(255,255,255,0.5)"></div>
<div class="a" style="left:875.60px;top:486.28px;width:1341px;height:2px;background:rgba(255,255,255,0.5)"></div>
<div class="a" style="left:875.60px;top:547.16px;width:1341px;height:2px;background:rgba(255,255,255,0.5)"></div>
<div class="a" style="left:875.60px;top:608.04px;width:1341px;height:2px;background:rgba(255,255,255,0.5)"></div>
<div class="a" style="left:875.60px;top:668.92px;width:1341px;height:2px;background:rgba(255,255,255,0.5)"></div>
<div class="a" style="left:875.60px;top:729.80px;width:1341px;height:2px;background:rgba(255,255,255,0.5)"></div>
<div class="a" style="left:875.60px;top:790.68px;width:1341px;height:2px;background:rgba(255,255,255,0.5)"></div>
<div class="a" style="left:875.60px;top:851.56px;width:1341px;height:2px;background:rgba(255,255,255,0.5)"></div>
<div class="a" style="left:875.60px;top:912.44px;width:1341px;height:2px;background:rgba(255,255,255,0.5)"></div>
<div class="a" style="left:875.60px;top:973.32px;width:1341px;height:2px;background:rgba(255,255,255,0.5)"></div>
<div class="a" style="left:875.60px;top:1034.20px;width:1341px;height:2px;background:rgba(255,255,255,0.5)"></div>
<div class="a" style="left:875.60px;top:1095.08px;width:1341px;height:2px;background:rgba(255,255,255,0.5)"></div>
<div class="a" style="left:875.60px;top:1155.96px;width:1341px;height:2px;background:rgba(255,255,255,0.5)"></div>
<div class="a" style="left:875.60px;top:1216.84px;width:1341px;height:2px;background:rgba(255,255,255,0.5)"></div>
<div class="a" style="left:875.60px;top:1277.72px;width:1341px;height:2px;background:rgba(255,255,255,0.5)"></div>
<div class="a" style="left:875.60px;top:1338.60px;width:1341px;height:2px;background:rgba(255,255,255,0.5)"></div>
<div class="hl" style="left:9px;top:121.00px;width:867px"></div>
<div class="hl" style="left:9px;top:181.88px;width:867px"></div>
<div class="hl" style="left:9px;top:242.76px;width:867px"></div>
<div class="hl" style="left:9px;top:303.64px;width:867px"></div>
<div class="hl" style="left:9px;top:364.52px;width:867px"></div>
<div class="hl" style="left:9px;top:425.40px;width:867px"></div>
<div class="hl" style="left:9px;top:486.28px;width:867px"></div>
<div class="hl" style="left:9px;top:547.16px;width:867px"></div>
<div class="hl" style="left:9px;top:608.04px;width:867px"></div>
<div class="hl" style="left:9px;top:668.92px;width:867px"></div>
<div class="hl" style="left:9px;top:729.80px;width:867px"></div>
<div class="hl" style="left:9px;top:790.68px;width:867px"></div>
<div class="hl" style="left:9px;top:851.56px;width:867px"></div>
<div class="hl" style="left:9px;top:912.44px;width:867px"></div>
<div class="hl" style="left:9px;top:973.32px;width:867px"></div>
<div class="hl" style="left:9px;top:1034.20px;width:867px"></div>
<div class="hl" style="left:9px;top:1095.08px;width:867px"></div>
<div class="hl" style="left:9px;top:1155.96px;width:867px"></div>
<div class="hl" style="left:9px;top:1216.84px;width:867px"></div>
<div class="hl" style="left:9px;top:1277.72px;width:867px"></div>
<div class="hl" style="left:9px;top:1338.60px;width:867px"></div>
<div class="hl" style="left:875.60px;top:121px;width:1341px"></div>
<div class="vl" style="left:8px;top:0;height:1372px"></div>
<div class="vl" style="left:57.6px;top:0;height:1372px"></div>
<div class="vl" style="left:364px;top:0;height:1372px"></div>
<div class="vl" style="left:521px;top:0;height:1372px"></div>
<div class="vl" style="left:776.5px;top:0;height:1372px"></div>
<div class="vl" style="left:875px;top:0;height:1372px"></div>
<div class="vl" style="left:2216.9px;top:0;height:122px"></div>
<div class="a" style="left:2216.9px;top:122px;width:2.1px;height:1250px;background:#e2efe6"></div>
<div class="hl" style="left:875.60px;top:60.6px;width:1341px;background:#eaeaed"></div>
<div class="vl" style="left:977.72px;top:61px;height:61px;background:#eaeaed"></div>
<div class="vl" style="left:1080.84px;top:61px;height:61px;background:#eaeaed"></div>
<div class="vl" style="left:1183.96px;top:61px;height:61px;background:#eaeaed"></div>
<div class="vl" style="left:1287.08px;top:61px;height:61px;background:#eaeaed"></div>
<div class="vl" style="left:1390.20px;top:61px;height:61px;background:#eaeaed"></div>
<div class="vl" style="left:1493.32px;top:61px;height:61px;background:#eaeaed"></div>
<div class="vl" style="left:1596.44px;top:61px;height:61px;background:#eaeaed"></div>
<div class="vl" style="left:1699.56px;top:61px;height:61px;background:#eaeaed"></div>
<div class="vl" style="left:1802.68px;top:61px;height:61px;background:#eaeaed"></div>
<div class="vl" style="left:1905.80px;top:61px;height:61px;background:#eaeaed"></div>
<div class="vl" style="left:2008.92px;top:61px;height:61px;background:#eaeaed"></div>
<div class="vl" style="left:2112.04px;top:61px;height:61px;background:#eaeaed"></div>
<div class="cb" style="left:21.5px;top:49px"></div>
<div class="ht" style="left:73px;top:48.38px">Запрос</div>
<div class="ht" style="left:383px;top:48.38px">Частота</div>
<svg class="a" style="left:495px;top:53px" width="14" height="20" viewBox="0 0 14 20"><path d="M7.2 3.5 V18.3" stroke="#4d4f52" stroke-width="2.3" fill="none" stroke-linecap="round"/><path d="M2.6 6.8 L7.2 0.8 L11.8 6.8 Z" fill="#4d4f52" stroke="#4d4f52" stroke-width="0.6" stroke-linejoin="round"/></svg>
<div class="ht" style="left:521px;top:36.33px;width:257px;text-align:center;line-height:25.7px">Поисковая<br>система</div>
<svg class="a" style="left:810px;top:53px" width="14" height="20" viewBox="0 0 14 20"><path d="M7.7 5 V18.8" stroke="#109a4a" stroke-width="2.8" fill="none" stroke-linecap="round"/><path d="M2.5 8 L7.7 1.4 L12.9 8 Z" fill="#0e9a40" stroke="#0e9a40" stroke-width="0.8" stroke-linejoin="round"/></svg>
<svg class="a" style="left:832px;top:53px" width="14" height="20" viewBox="0 0 14 20"><path d="M7 1.8 V15" stroke="#e05a50" stroke-width="2.6" fill="none" stroke-linecap="round"/><path d="M2 12.6 L7 18.9 L11.9 12.6 Z" fill="#ee2a22" stroke="#ee2a22" stroke-width="0.8" stroke-linejoin="round"/></svg>
<div class="ht" style="left:875.60px;top:18.18px;width:1341px;text-align:center">Сентябрь</div>
<div class="ht" style="left:875.60px;top:79.18px;width:103.12px;text-align:center">16</div>
<div class="ht" style="left:978.72px;top:79.18px;width:103.12px;text-align:center"><span class="red">Я</span><svg width="9" height="20" style="margin:0 3px 0 2px;vertical-align:-3px" viewBox="0 0 9 20"><path d="M7.6 0.8 L1.6 19.2" stroke="#3d4852" stroke-width="2.7"/></svg>15</div>
<div class="ht" style="left:1081.84px;top:79.18px;width:103.12px;text-align:center">14</div>
<div class="ht" style="left:1184.96px;top:79.18px;width:103.12px;text-align:center"><span class="red">Я</span><svg width="9" height="20" style="margin:0 3px 0 2px;vertical-align:-3px" viewBox="0 0 9 20"><path d="M7.6 0.8 L1.6 19.2" stroke="#3d4852" stroke-width="2.7"/></svg>13</div>
<div class="ht" style="left:1288.08px;top:79.18px;width:103.12px;text-align:center">12</div>
<div class="ht" style="left:1391.20px;top:79.18px;width:103.12px;text-align:center"><span class="red">Я</span><svg width="9" height="20" style="margin:0 3px 0 2px;vertical-align:-3px" viewBox="0 0 9 20"><path d="M7.6 0.8 L1.6 19.2" stroke="#3d4852" stroke-width="2.7"/></svg>11</div>
<div class="ht" style="left:1494.32px;top:79.18px;width:103.12px;text-align:center">10</div>
<div class="ht" style="left:1597.44px;top:79.18px;width:103.12px;text-align:center"><span class="red">Я</span><svg width="9" height="20" style="margin:0 3px 0 2px;vertical-align:-3px" viewBox="0 0 9 20"><path d="M7.6 0.8 L1.6 19.2" stroke="#3d4852" stroke-width="2.7"/></svg>9</div>
<div class="ht" style="left:1700.56px;top:79.18px;width:103.12px;text-align:center">8</div>
<div class="ht" style="left:1803.68px;top:79.18px;width:103.12px;text-align:center"><span class="red">Я</span><svg width="9" height="20" style="margin:0 3px 0 2px;vertical-align:-3px" viewBox="0 0 9 20"><path d="M7.6 0.8 L1.6 19.2" stroke="#3d4852" stroke-width="2.7"/></svg>7</div>
<div class="ht" style="left:1906.80px;top:79.18px;width:103.12px;text-align:center"><span class="red">Я</span><svg width="9" height="20" style="margin:0 3px 0 2px;vertical-align:-3px" viewBox="0 0 9 20"><path d="M7.6 0.8 L1.6 19.2" stroke="#3d4852" stroke-width="2.7"/></svg>6</div>
<div class="ht" style="left:2009.92px;top:79.18px;width:103.12px;text-align:center"><span class="red">Я</span><svg width="9" height="20" style="margin:0 3px 0 2px;vertical-align:-3px" viewBox="0 0 9 20"><path d="M7.6 0.8 L1.6 19.2" stroke="#3d4852" stroke-width="2.7"/></svg>5</div>
<div class="ht" style="left:2113.04px;top:79.18px;width:103.12px;text-align:center">4</div>
<div class="cb" style="left:21.5px;top:140.00px"></div>
<div class="bt" style="left:72px;top:141.50px;letter-spacing:0.13px">цены на бензин</div>
<div class="bt" style="left:365px;top:141.28px;width:157px;text-align:center;font-size:22px;letter-spacing:-0.7px">5792</div>
<svg class="ya" style="left:555px;top:139.00px" viewBox="0 0 16 28"><path d="M13.2 2 H8.6 C4.6 2 2.6 4.6 2.6 7.8 C2.6 11.2 4.6 13.8 8.6 13.8 H13.2 M13.2 1.8 V26.2 M8.6 14.6 L3.2 26.2" stroke="#f23a26" stroke-width="3.4" fill="none" stroke-linecap="round" stroke-linejoin="round"/></svg>
<div class="bt" style="left:590px;top:142.85px;font-size:21.5px">ru/Москва</div>
<svg class="a" style="left:812px;top:142.00px" width="14" height="20" viewBox="0 0 14 20"><path d="M7.4 5 V17.6" stroke="#129a4c" stroke-width="2.6" fill="none" stroke-linecap="round"/><path d="M3.2 7.2 L7.4 1.3 L11.6 7.2 Z" fill="#0e9a40" stroke="#0e9a40" stroke-width="0.7" stroke-linejoin="round"/></svg>
<div class="bt" style="left:835px;top:141.12px;color:#4f9c5c;font-size:21px">1</div>
<div class="c" style="left:875.60px;top:141.18px;width:103.12px">6</div>
<div class="c" style="left:978.72px;top:141.18px;width:103.12px">7</div>
<div class="c" style="left:1081.84px;top:141.18px;width:103.12px">6</div>
<div class="c" style="left:1184.96px;top:141.18px;width:103.12px">6</div>
<div class="c" style="left:1288.08px;top:141.18px;width:103.12px">6</div>
<div class="c" style="left:1391.20px;top:141.18px;width:103.12px">6</div>
<div class="c" style="left:1494.32px;top:141.18px;width:103.12px">7</div>
<div class="c" style="left:1597.44px;top:141.18px;width:103.12px">1</div>
<div class="c" style="left:1700.56px;top:141.18px;width:103.12px">3</div>
<div class="c" style="left:1803.68px;top:141.18px;width:103.12px">8</div>
<div class="c" style="left:1906.80px;top:141.18px;width:103.12px">9</div>
<div class="c" style="left:2009.92px;top:141.18px;width:103.12px">5</div>
<div class="c" style="left:2113.04px;top:141.18px;width:103.12px">7</div>
<div class="cb" style="left:21.5px;top:200.88px"></div>
<div class="bt" style="left:72px;top:202.38px;letter-spacing:0.13px">стоимость бензина</div>
<div class="bt" style="left:365px;top:202.16px;width:157px;text-align:center;font-size:22px;letter-spacing:-0.7px">2338</div>
<svg class="ya" style="left:555px;top:199.88px" viewBox="0 0 16 28"><path d="M13.2 2 H8.6 C4.6 2 2.6 4.6 2.6 7.8 C2.6 11.2 4.6 13.8 8.6 13.8 H13.2 M13.2 1.8 V26.2 M8.6 14.6 L3.2 26.2" stroke="#f23a26" stroke-width="3.4" fill="none" stroke-linecap="round" stroke-linejoin="round"/></svg>
<div class="bt" style="left:590px;top:203.73px;font-size:21.5px">ru/Москва</div>
<svg class="a" style="left:812px;top:202.88px" width="14" height="20" viewBox="0 0 14 20"><path d="M7.4 5 V17.6" stroke="#129a4c" stroke-width="2.6" fill="none" stroke-linecap="round"/><path d="M3.2 7.2 L7.4 1.3 L11.6 7.2 Z" fill="#0e9a40" stroke="#0e9a40" stroke-width="0.7" stroke-linejoin="round"/></svg>
<div class="bt" style="left:835px;top:202.00px;color:#4f9c5c;font-size:21px">1</div>
<div class="c" style="left:875.60px;top:202.06px;width:103.12px">6</div>
<div class="c" style="left:978.72px;top:202.06px;width:103.12px">6</div>
<div class="c" style="left:1081.84px;top:202.06px;width:103.12px">6</div>
<div class="c" style="left:1184.96px;top:202.06px;width:103.12px">6</div>
<div class="c" style="left:1288.08px;top:202.06px;width:103.12px">3</div>
<div class="c" style="left:1391.20px;top:202.06px;width:103.12px">6</div>
<div class="c" style="left:1494.32px;top:202.06px;width:103.12px">6</div>
<div class="c" style="left:1597.44px;top:202.06px;width:103.12px">5</div>
<div class="c" style="left:1700.56px;top:202.06px;width:103.12px">6</div>
<div class="c" style="left:1803.68px;top:202.06px;width:103.12px">7</div>
<div class="c" style="left:1906.80px;top:202.06px;width:103.12px">6</div>
<div class="c" style="left:2009.92px;top:202.06px;width:103.12px">7</div>
<div class="c" style="left:2113.04px;top:202.06px;width:103.12px">7</div>
<div class="cb" style="left:21.5px;top:261.76px"></div>
<div class="bt" style="left:72px;top:263.26px;letter-spacing:0.13px">цена бензина</div>
<div class="bt" style="left:365px;top:263.04px;width:157px;text-align:center;font-size:22px;letter-spacing:-0.7px">2082</div>
<svg class="ya" style="left:555px;top:260.76px" viewBox="0 0 16 28"><path d="M13.2 2 H8.6 C4.6 2 2.6 4.6 2.6 7.8 C2.6 11.2 4.6 13.8 8.6 13.8 H13.2 M13.2 1.8 V26.2 M8.6 14.6 L3.2 26.2" stroke="#f23a26" stroke-width="3.4" fill="none" stroke-linecap="round" stroke-linejoin="round"/></svg>
<div class="bt" style="left:590px;top:264.61px;font-size:21.5px">ru/Москва</div>
<svg class="a" style="left:812px;top:263.76px" width="14" height="20" viewBox="0 0 14 20"><path d="M7.4 5 V17.6" stroke="#129a4c" stroke-width="2.6" fill="none" stroke-linecap="round"/><path d="M3.2 7.2 L7.4 1.3 L11.6 7.2 Z" fill="#0e9a40" stroke="#0e9a40" stroke-width="0.7" stroke-linejoin="round"/></svg>
<div class="bt" style="left:835px;top:262.88px;color:#4f9c5c;font-size:21px">1</div>
<div class="c" style="left:875.60px;top:262.94px;width:103.12px">3</div>
<div class="c" style="left:978.72px;top:262.94px;width:103.12px">5</div>
<div class="c" style="left:1081.84px;top:262.94px;width:103.12px">5</div>
<div class="c" style="left:1184.96px;top:262.94px;width:103.12px">5</div>
<div class="c" style="left:1288.08px;top:262.94px;width:103.12px">1</div>
<div class="c" style="left:1391.20px;top:262.94px;width:103.12px">3</div>
<div class="c" style="left:1494.32px;top:262.94px;width:103.12px">5</div>
<div class="c" style="left:1597.44px;top:262.94px;width:103.12px">3</div>
<div class="c" style="left:1700.56px;top:262.94px;width:103.12px">2</div>
<div class="c" style="left:1803.68px;top:262.94px;width:103.12px">6</div>
<div class="c" style="left:1906.80px;top:262.94px;width:103.12px">5</div>
<div class="c" style="left:2009.92px;top:262.94px;width:103.12px">4</div>
<div class="c" style="left:2113.04px;top:262.94px;width:103.12px">4</div>
<div class="cb" style="left:21.5px;top:322.64px"></div>
<div class="bt" style="left:72px;top:324.14px;letter-spacing:0.13px">дт</div>
<div class="bt" style="left:365px;top:323.92px;width:157px;text-align:center;font-size:22px;letter-spacing:-0.7px">1987</div>
<svg class="ya" style="left:555px;top:321.64px" viewBox="0 0 16 28"><path d="M13.2 2 H8.6 C4.6 2 2.6 4.6 2.6 7.8 C2.6 11.2 4.6 13.8 8.6 13.8 H13.2 M13.2 1.8 V26.2 M8.6 14.6 L3.2 26.2" stroke="#f23a26" stroke-width="3.4" fill="none" stroke-linecap="round" stroke-linejoin="round"/></svg>
<div class="bt" style="left:590px;top:325.49px;font-size:21.5px">ru/Москва</div>
<div class="a" style="left:823.5px;top:335.24px;width:6px;height:2px;background:#7a9868"></div>
<div class="c" style="left:875.60px;top:323.82px;width:103.12px">2</div>
<div class="c" style="left:978.72px;top:323.82px;width:103.12px">2</div>
<div class="c" style="left:1081.84px;top:323.82px;width:103.12px">2</div>
<div class="c" style="left:1184.96px;top:323.82px;width:103.12px">2</div>
<div class="c" style="left:1288.08px;top:323.82px;width:103.12px">2</div>
<div class="c" style="left:1391.20px;top:323.82px;width:103.12px">1</div>
<div class="c" style="left:1494.32px;top:323.82px;width:103.12px">2</div>
<div class="c" style="left:1597.44px;top:323.82px;width:103.12px">2</div>
<div class="c" style="left:1700.56px;top:323.82px;width:103.12px">2</div>
<div class="c" style="left:1803.68px;top:323.82px;width:103.12px">2</div>
<div class="c" style="left:1906.80px;top:323.82px;width:103.12px">2</div>
<div class="c" style="left:2009.92px;top:323.82px;width:103.12px">2</div>
<div class="c" style="left:2113.04px;top:323.82px;width:103.12px">2</div>
<div class="cb" style="left:21.5px;top:383.52px"></div>
<div class="bt" style="left:72px;top:385.02px;letter-spacing:0.13px">дизельное топливо</div>
<div class="bt" style="left:365px;top:384.80px;width:157px;text-align:center;font-size:22px;letter-spacing:-0.7px">1923</div>
<svg class="ya" style="left:555px;top:382.52px" viewBox="0 0 16 28"><path d="M13.2 2 H8.6 C4.6 2 2.6 4.6 2.6 7.8 C2.6 11.2 4.6 13.8 8.6 13.8 H13.2 M13.2 1.8 V26.2 M8.6 14.6 L3.2 26.2" stroke="#f23a26" stroke-width="3.4" fill="none" stroke-linecap="round" stroke-linejoin="round"/></svg>
<div class="bt" style="left:590px;top:386.37px;font-size:21.5px">ru/Москва</div>
<div class="a" style="left:823.5px;top:396.12px;width:6px;height:2px;background:#7a9868"></div>
<div class="c" style="left:875.60px;top:384.70px;width:103.12px">3</div>
<div class="c" style="left:978.72px;top:384.70px;width:103.12px">3</div>
<div class="c" style="left:1081.84px;top:384.70px;width:103.12px">4</div>
<div class="c" style="left:1184.96px;top:384.70px;width:103.12px">3</div>
<div class="c" style="left:1288.08px;top:384.70px;width:103.12px">3</div>
<div class="c" style="left:1391.20px;top:384.70px;width:103.12px">3</div>
<div class="c" style="left:1494.32px;top:384.70px;width:103.12px">4</div>
<div class="c" style="left:1597.44px;top:384.70px;width:103.12px">4</div>
<div class="c" style="left:1700.56px;top:384.70px;width:103.12px">4</div>
<div class="c" style="left:1803.68px;top:384.70px;width:103.12px">5</div>
<div class="c" style="left:1906.80px;top:384.70px;width:103.12px">5</div>
<div class="c" style="left:2009.92px;top:384.70px;width:103.12px">6</div>
<div class="c" style="left:2113.04px;top:384.70px;width:103.12px">3</div>
<div class="cb" style="left:21.5px;top:444.40px"></div>
<div class="bt" style="left:72px;top:445.90px;letter-spacing:0.13px">цена бензин</div>
<div class="bt" style="left:365px;top:445.68px;width:157px;text-align:center;font-size:22px;letter-spacing:-0.7px">1430</div>
<svg class="ya" style="left:555px;top:443.40px" viewBox="0 0 16 28"><path d="M13.2 2 H8.6 C4.6 2 2.6 4.6 2.6 7.8 C2.6 11.2 4.6 13.8 8.6 13.8 H13.2 M13.2 1.8 V26.2 M8.6 14.6 L3.2 26.2" stroke="#f23a26" stroke-width="3.4" fill="none" stroke-linecap="round" stroke-linejoin="round"/></svg>
<div class="bt" style="left:590px;top:447.25px;font-size:21.5px">ru/Москва</div>
<svg class="a" style="left:812px;top:446.40px" width="14" height="20" viewBox="0 0 14 20"><path d="M7.4 5 V17.6" stroke="#129a4c" stroke-width="2.6" fill="none" stroke-linecap="round"/><path d="M3.2 7.2 L7.4 1.3 L11.6 7.2 Z" fill="#0e9a40" stroke="#0e9a40" stroke-width="0.7" stroke-linejoin="round"/></svg>
<div class="bt" style="left:835px;top:445.52px;color:#4f9c5c;font-size:21px">3</div>
<div class="c" style="left:875.60px;top:445.58px;width:103.12px">1</div>
<div class="c" style="left:978.72px;top:445.58px;width:103.12px">2</div>
<div class="c" style="left:1081.84px;top:445.58px;width:103.12px">1</div>
<div class="c" style="left:1184.96px;top:445.58px;width:103.12px">1</div>
<div class="c" style="left:1288.08px;top:445.58px;width:103.12px">2</div>
<div class="c" style="left:1391.20px;top:445.58px;width:103.12px">1</div>
<div class="c" style="left:1494.32px;top:445.58px;width:103.12px">1</div>
<div class="c" style="left:1597.44px;top:445.58px;width:103.12px">1</div>
<div class="c" style="left:1700.56px;top:445.58px;width:103.12px">1</div>
<div class="c" style="left:1803.68px;top:445.58px;width:103.12px">3</div>
<div class="c" style="left:1906.80px;top:445.58px;width:103.12px">3</div>
<div class="c" style="left:2009.92px;top:445.58px;width:103.12px">3</div>
<div class="c" style="left:2113.04px;top:445.58px;width:103.12px">4</div>
<div class="cb" style="left:21.5px;top:505.28px"></div>
<div class="bt" style="left:72px;top:506.78px;letter-spacing:0.13px">масло гидравлическое</div>
<div class="bt" style="left:365px;top:506.56px;width:157px;text-align:center;font-size:22px;letter-spacing:-0.7px">1398</div>
<svg class="ya" style="left:555px;top:504.28px" viewBox="0 0 16 28"><path d="M13.2 2 H8.6 C4.6 2 2.6 4.6 2.6 7.8 C2.6 11.2 4.6 13.8 8.6 13.8 H13.2 M13.2 1.8 V26.2 M8.6 14.6 L3.2 26.2" stroke="#f23a26" stroke-width="3.4" fill="none" stroke-linecap="round" stroke-linejoin="round"/></svg>
<div class="bt" style="left:590px;top:508.13px;font-size:21.5px">ru/Москва</div>
<svg class="a" style="left:812px;top:507.28px" width="14" height="20" viewBox="0 0 14 20"><path d="M7.4 5 V17.6" stroke="#129a4c" stroke-width="2.6" fill="none" stroke-linecap="round"/><path d="M3.2 7.2 L7.4 1.3 L11.6 7.2 Z" fill="#0e9a40" stroke="#0e9a40" stroke-width="0.7" stroke-linejoin="round"/></svg>
<div class="bt" style="left:835px;top:506.40px;color:#4f9c5c;font-size:21px">4</div>
<div class="c" style="left:875.60px;top:506.46px;width:103.12px">1</div>
<div class="c" style="left:978.72px;top:506.46px;width:103.12px">2</div>
<div class="c" style="left:1081.84px;top:506.46px;width:103.12px">1</div>
<div class="c" style="left:1184.96px;top:506.46px;width:103.12px">1</div>
<div class="c" style="left:1288.08px;top:506.46px;width:103.12px">1</div>
<div class="c" style="left:1391.20px;top:506.46px;width:103.12px">2</div>
<div class="c" style="left:1494.32px;top:506.46px;width:103.12px">2</div>
<div class="c" style="left:1597.44px;top:506.46px;width:103.12px">1</div>
<div class="c" style="left:1700.56px;top:506.46px;width:103.12px">1</div>
<div class="c" style="left:1803.68px;top:506.46px;width:103.12px">1</div>
<div class="c" style="left:1906.80px;top:506.46px;width:103.12px">1</div>
<div class="c" style="left:2009.92px;top:506.46px;width:103.12px">1</div>
<div class="c" style="left:2113.04px;top:506.46px;width:103.12px">5</div>
<div class="cb" style="left:21.5px;top:566.16px"></div>
<div class="bt" style="left:72px;top:567.66px;letter-spacing:0.13px">гидравлическое масло</div>
<div class="bt" style="left:365px;top:567.44px;width:157px;text-align:center;font-size:22px;letter-spacing:-0.7px">1398</div>
<svg class="ya" style="left:555px;top:565.16px" viewBox="0 0 16 28"><path d="M13.2 2 H8.6 C4.6 2 2.6 4.6 2.6 7.8 C2.6 11.2 4.6 13.8 8.6 13.8 H13.2 M13.2 1.8 V26.2 M8.6 14.6 L3.2 26.2" stroke="#f23a26" stroke-width="3.4" fill="none" stroke-linecap="round" stroke-linejoin="round"/></svg>
<div class="bt" style="left:590px;top:569.01px;font-size:21.5px">ru/Москва</div>
<svg class="a" style="left:812px;top:568.16px" width="14" height="20" viewBox="0 0 14 20"><path d="M7.4 5 V17.6" stroke="#129a4c" stroke-width="2.6" fill="none" stroke-linecap="round"/><path d="M3.2 7.2 L7.4 1.3 L11.6 7.2 Z" fill="#0e9a40" stroke="#0e9a40" stroke-width="0.7" stroke-linejoin="round"/></svg>
<div class="bt" style="left:835px;top:567.28px;color:#4f9c5c;font-size:21px">2</div>
<div class="c" style="left:875.60px;top:567.34px;width:103.12px">1</div>
<div class="c" style="left:978.72px;top:567.34px;width:103.12px">2</div>
<div class="c" style="left:1081.84px;top:567.34px;width:103.12px">3</div>
<div class="c" style="left:1184.96px;top:567.34px;width:103.12px">2</div>
<div class="c" style="left:1288.08px;top:567.34px;width:103.12px">1</div>
<div class="c" style="left:1391.20px;top:567.34px;width:103.12px">1</div>
<div class="c" style="left:1494.32px;top:567.34px;width:103.12px">3</div>
<div class="c" style="left:1597.44px;top:567.34px;width:103.12px">2</div>
<div class="c" style="left:1700.56px;top:567.34px;width:103.12px">1</div>
<div class="c" style="left:1803.68px;top:567.34px;width:103.12px">1</div>
<div class="c" style="left:1906.80px;top:567.34px;width:103.12px">1</div>
<div class="c" style="left:2009.92px;top:567.34px;width:103.12px">3</div>
<div class="c" style="left:2113.04px;top:567.34px;width:103.12px">3</div>
<div class="cb" style="left:21.5px;top:627.04px"></div>
<div class="bt" style="left:72px;top:628.54px;letter-spacing:0.13px">топливо</div>
<div class="bt" style="left:365px;top:628.32px;width:157px;text-align:center;font-size:22px;letter-spacing:-0.7px">1212</div>
<svg class="ya" style="left:555px;top:626.04px" viewBox="0 0 16 28"><path d="M13.2 2 H8.6 C4.6 2 2.6 4.6 2.6 7.8 C2.6 11.2 4.6 13.8 8.6 13.8 H13.2 M13.2 1.8 V26.2 M8.6 14.6 L3.2 26.2" stroke="#f23a26" stroke-width="3.4" fill="none" stroke-linecap="round" stroke-linejoin="round"/></svg>
<div class="bt" style="left:590px;top:629.89px;font-size:21.5px">ru/Москва</div>
<div class="a" style="left:823.5px;top:639.64px;width:6px;height:2px;background:#7a9868"></div>
<div class="c" style="left:875.60px;top:628.22px;width:103.12px">2</div>
<div class="c" style="left:978.72px;top:628.22px;width:103.12px">2</div>
<div class="c" style="left:1081.84px;top:628.22px;width:103.12px">2</div>
<div class="c" style="left:1184.96px;top:628.22px;width:103.12px">2</div>
<div class="c" style="left:1288.08px;top:628.22px;width:103.12px">2</div>
<div class="c" style="left:1391.20px;top:628.22px;width:103.12px">2</div>
<div class="c" style="left:1494.32px;top:628.22px;width:103.12px">2</div>
<div class="c" style="left:1597.44px;top:628.22px;width:103.12px">2</div>
<div class="c" style="left:1700.56px;top:628.22px;width:103.12px">2</div>
<div class="c" style="left:1803.68px;top:628.22px;width:103.12px">2</div>
<div class="c" style="left:1906.80px;top:628.22px;width:103.12px">2</div>
<div class="c" style="left:2009.92px;top:628.22px;width:103.12px">2</div>
<div class="c" style="left:2113.04px;top:628.22px;width:103.12px">2</div>
<div class="cb" style="left:21.5px;top:687.92px"></div>
<div class="bt" style="left:72px;top:689.42px;letter-spacing:0.13px">купить дизельное топливо</div>
<div class="bt" style="left:365px;top:689.20px;width:157px;text-align:center;font-size:22px;letter-spacing:-0.7px">1108</div>
<svg class="ya" style="left:555px;top:686.92px" viewBox="0 0 16 28"><path d="M13.2 2 H8.6 C4.6 2 2.6 4.6 2.6 7.8 C2.6 11.2 4.6 13.8 8.6 13.8 H13.2 M13.2 1.8 V26.2 M8.6 14.6 L3.2 26.2" stroke="#f23a26" stroke-width="3.4" fill="none" stroke-linecap="round" stroke-linejoin="round"/></svg>
<div class="bt" style="left:590px;top:690.77px;font-size:21.5px">ru/Москва</div>
<svg class="a" style="left:812px;top:689.92px" width="14" height="20" viewBox="0 0 14 20"><path d="M7.4 5 V17.6" stroke="#129a4c" stroke-width="2.6" fill="none" stroke-linecap="round"/><path d="M3.2 7.2 L7.4 1.3 L11.6 7.2 Z" fill="#0e9a40" stroke="#0e9a40" stroke-width="0.7" stroke-linejoin="round"/></svg>
<div class="bt" style="left:835px;top:689.04px;color:#4f9c5c;font-size:21px">1</div>
<div class="c" style="left:875.60px;top:689.10px;width:103.12px">1</div>
<div class="c" style="left:978.72px;top:689.10px;width:103.12px">1</div>
<div class="c" style="left:1081.84px;top:689.10px;width:103.12px">1</div>
<div class="c" style="left:1184.96px;top:689.10px;width:103.12px">1</div>
<div class="c" style="left:1288.08px;top:689.10px;width:103.12px">1</div>
<div class="c" style="left:1391.20px;top:689.10px;width:103.12px">1</div>
<div class="c" style="left:1494.32px;top:689.10px;width:103.12px">1</div>
<div class="c" style="left:1597.44px;top:689.10px;width:103.12px">1</div>
<div class="c" style="left:1700.56px;top:689.10px;width:103.12px">1</div>
<div class="c" style="left:1803.68px;top:689.10px;width:103.12px">1</div>
<div class="c" style="left:1906.80px;top:689.10px;width:103.12px">1</div>
<div class="c" style="left:2009.92px;top:689.10px;width:103.12px">1</div>
<div class="c" style="left:2113.04px;top:689.10px;width:103.12px">2</div>
<div class="cb" style="left:21.5px;top:748.80px"></div>
<div class="bt" style="left:72px;top:750.30px;letter-spacing:0.13px">топливо дизельное купить</div>
<div class="bt" style="left:365px;top:750.08px;width:157px;text-align:center;font-size:22px;letter-spacing:-0.7px">1108</div>
<svg class="ya" style="left:555px;top:747.80px" viewBox="0 0 16 28"><path d="M13.2 2 H8.6 C4.6 2 2.6 4.6 2.6 7.8 C2.6 11.2 4.6 13.8 8.6 13.8 H13.2 M13.2 1.8 V26.2 M8.6 14.6 L3.2 26.2" stroke="#f23a26" stroke-width="3.4" fill="none" stroke-linecap="round" stroke-linejoin="round"/></svg>
<div class="bt" style="left:590px;top:751.65px;font-size:21.5px">ru/Москва</div>
<div class="a" style="left:823.5px;top:761.40px;width:6px;height:2px;background:#7a9868"></div>
<div class="c" style="left:875.60px;top:749.98px;width:103.12px">1</div>
<div class="c" style="left:978.72px;top:749.98px;width:103.12px">1</div>
<div class="c" style="left:1081.84px;top:749.98px;width:103.12px">1</div>
<div class="c" style="left:1184.96px;top:749.98px;width:103.12px">1</div>
<div class="c" style="left:1288.08px;top:749.98px;width:103.12px">1</div>
<div class="c" style="left:1391.20px;top:749.98px;width:103.12px">1</div>
<div class="c" style="left:1494.32px;top:749.98px;width:103.12px">1</div>
<div class="c" style="left:1597.44px;top:749.98px;width:103.12px">1</div>
<div class="c" style="left:1700.56px;top:749.98px;width:103.12px">1</div>
<div class="c" style="left:1803.68px;top:749.98px;width:103.12px">1</div>
<div class="c" style="left:1906.80px;top:749.98px;width:103.12px">1</div>
<div class="c" style="left:2009.92px;top:749.98px;width:103.12px">1</div>
<div class="c" style="left:2113.04px;top:749.98px;width:103.12px">1</div>
<div class="cb" style="left:21.5px;top:809.68px"></div>
<div class="bt" style="left:72px;top:811.18px;letter-spacing:0.13px">цена дизельное топливо</div>
<div class="bt" style="left:365px;top:810.96px;width:157px;text-align:center;font-size:22px;letter-spacing:-0.7px">860</div>
<svg class="ya" style="left:555px;top:808.68px" viewBox="0 0 16 28"><path d="M13.2 2 H8.6 C4.6 2 2.6 4.6 2.6 7.8 C2.6 11.2 4.6 13.8 8.6 13.8 H13.2 M13.2 1.8 V26.2 M8.6 14.6 L3.2 26.2" stroke="#f23a26" stroke-width="3.4" fill="none" stroke-linecap="round" stroke-linejoin="round"/></svg>
<div class="bt" style="left:590px;top:812.53px;font-size:21.5px">ru/Москва</div>
<div class="a" style="left:823.5px;top:822.28px;width:6px;height:2px;background:#7a9868"></div>
<div class="c" style="left:875.60px;top:810.86px;width:103.12px">1</div>
<div class="c" style="left:978.72px;top:810.86px;width:103.12px">1</div>
<div class="c" style="left:1081.84px;top:810.86px;width:103.12px">1</div>
<div class="c" style="left:1184.96px;top:810.86px;width:103.12px">1</div>
<div class="c" style="left:1288.08px;top:810.86px;width:103.12px">1</div>
<div class="c" style="left:1391.20px;top:810.86px;width:103.12px">1</div>
<div class="c" style="left:1494.32px;top:810.86px;width:103.12px">1</div>
<div class="c" style="left:1597.44px;top:810.86px;width:103.12px">1</div>
<div class="c" style="left:1700.56px;top:810.86px;width:103.12px">1</div>
<div class="c" style="left:1803.68px;top:810.86px;width:103.12px">1</div>
<div class="c" style="left:1906.80px;top:810.86px;width:103.12px">1</div>
<div class="c" style="left:2009.92px;top:810.86px;width:103.12px">1</div>
<div class="c" style="left:2113.04px;top:810.86px;width:103.12px">1</div>
<div class="cb" style="left:21.5px;top:870.56px"></div>
<div class="bt" style="left:72px;top:872.06px;letter-spacing:0.13px">дизельное топливо цена</div>
<div class="bt" style="left:365px;top:871.84px;width:157px;text-align:center;font-size:22px;letter-spacing:-0.7px">860</div>
<svg class="ya" style="left:555px;top:869.56px" viewBox="0 0 16 28"><path d="M13.2 2 H8.6 C4.6 2 2.6 4.6 2.6 7.8 C2.6 11.2 4.6 13.8 8.6 13.8 H13.2 M13.2 1.8 V26.2 M8.6 14.6 L3.2 26.2" stroke="#f23a26" stroke-width="3.4" fill="none" stroke-linecap="round" stroke-linejoin="round"/></svg>
<div class="bt" style="left:590px;top:873.41px;font-size:21.5px">ru/Москва</div>
<div class="a" style="left:823.5px;top:883.16px;width:6px;height:2px;background:#7a9868"></div>
<div class="c" style="left:875.60px;top:871.74px;width:103.12px">1</div>
<div class="c" style="left:978.72px;top:871.74px;width:103.12px">1</div>
<div class="c" style="left:1081.84px;top:871.74px;width:103.12px">1</div>
<div class="c" style="left:1184.96px;top:871.74px;width:103.12px">1</div>
<div class="c" style="left:1288.08px;top:871.74px;width:103.12px">1</div>
<div class="c" style="left:1391.20px;top:871.74px;width:103.12px">1</div>
<div class="c" style="left:1494.32px;top:871.74px;width:103.12px">1</div>
<div class="c" style="left:1597.44px;top:871.74px;width:103.12px">1</div>
<div class="c" style="left:1700.56px;top:871.74px;width:103.12px">1</div>
<div class="c" style="left:1803.68px;top:871.74px;width:103.12px">2</div>
<div class="c" style="left:1906.80px;top:871.74px;width:103.12px">1</div>
<div class="c" style="left:2009.92px;top:871.74px;width:103.12px">1</div>
<div class="c" style="left:2113.04px;top:871.74px;width:103.12px">1</div>
<div class="cb" style="left:21.5px;top:931.44px"></div>
<div class="bt" style="left:72px;top:932.94px;letter-spacing:0.13px">дизель цена</div>
<div class="bt" style="left:365px;top:932.72px;width:157px;text-align:center;font-size:22px;letter-spacing:-0.7px">810</div>
<svg class="ya" style="left:555px;top:930.44px" viewBox="0 0 16 28"><path d="M13.2 2 H8.6 C4.6 2 2.6 4.6 2.6 7.8 C2.6 11.2 4.6 13.8 8.6 13.8 H13.2 M13.2 1.8 V26.2 M8.6 14.6 L3.2 26.2" stroke="#f23a26" stroke-width="3.4" fill="none" stroke-linecap="round" stroke-linejoin="round"/></svg>
<div class="bt" style="left:590px;top:934.29px;font-size:21.5px">ru/Москва</div>
<svg class="a" style="left:812px;top:933.44px" width="14" height="20" viewBox="0 0 14 20"><path d="M7.4 5 V17.6" stroke="#129a4c" stroke-width="2.6" fill="none" stroke-linecap="round"/><path d="M3.2 7.2 L7.4 1.3 L11.6 7.2 Z" fill="#0e9a40" stroke="#0e9a40" stroke-width="0.7" stroke-linejoin="round"/></svg>
<div class="bt" style="left:835px;top:932.56px;color:#4f9c5c;font-size:21px">2</div>
<div class="c" style="left:875.60px;top:932.62px;width:103.12px">1</div>
<div class="c" style="left:978.72px;top:932.62px;width:103.12px">1</div>
<div class="c" style="left:1081.84px;top:932.62px;width:103.12px">1</div>
<div class="c" style="left:1184.96px;top:932.62px;width:103.12px">1</div>
<div class="c" style="left:1288.08px;top:932.62px;width:103.12px">1</div>
<div class="c" style="left:1391.20px;top:932.62px;width:103.12px">1</div>
<div class="c" style="left:1494.32px;top:932.62px;width:103.12px">1</div>
<div class="c" style="left:1597.44px;top:932.62px;width:103.12px">1</div>
<div class="c" style="left:1700.56px;top:932.62px;width:103.12px">2</div>
<div class="c" style="left:1803.68px;top:932.62px;width:103.12px">2</div>
<div class="c" style="left:1906.80px;top:932.62px;width:103.12px">3</div>
<div class="c" style="left:2009.92px;top:932.62px;width:103.12px">3</div>
<div class="c" style="left:2113.04px;top:932.62px;width:103.12px">3</div>
<div class="cb" style="left:21.5px;top:992.32px"></div>
<div class="bt" style="left:72px;top:993.82px;letter-spacing:0.13px">дизельное топливо оптом</div>
<div class="bt" style="left:365px;top:993.60px;width:157px;text-align:center;font-size:22px;letter-spacing:-0.7px">756</div>
<svg class="ya" style="left:555px;top:991.32px" viewBox="0 0 16 28"><path d="M13.2 2 H8.6 C4.6 2 2.6 4.6 2.6 7.8 C2.6 11.2 4.6 13.8 8.6 13.8 H13.2 M13.2 1.8 V26.2 M8.6 14.6 L3.2 26.2" stroke="#f23a26" stroke-width="3.4" fill="none" stroke-linecap="round" stroke-linejoin="round"/></svg>
<div class="bt" style="left:590px;top:995.17px;font-size:21.5px">ru/Москва</div>
<div class="a" style="left:823.5px;top:1004.92px;width:6px;height:2px;background:#7a9868"></div>
<div class="c" style="left:875.60px;top:993.50px;width:103.12px">1</div>
<div class="c" style="left:978.72px;top:993.50px;width:103.12px">1</div>
<div class="c" style="left:1081.84px;top:993.50px;width:103.12px">1</div>
<div class="c" style="left:1184.96px;top:993.50px;width:103.12px">1</div>
<div class="c" style="left:1288.08px;top:993.50px;width:103.12px">1</div>
<div class="c" style="left:1391.20px;top:993.50px;width:103.12px">1</div>
<div class="c" style="left:1494.32px;top:993.50px;width:103.12px">1</div>
<div class="c" style="left:1597.44px;top:993.50px;width:103.12px">1</div>
<div class="c" style="left:1700.56px;top:993.50px;width:103.12px">1</div>
<div class="c" style="left:1803.68px;top:993.50px;width:103.12px">1</div>
<div class="c" style="left:1906.80px;top:993.50px;width:103.12px">1</div>
<div class="c" style="left:2009.92px;top:993.50px;width:103.12px">1</div>
<div class="c" style="left:2113.04px;top:993.50px;width:103.12px">1</div>
<div class="cb" style="left:21.5px;top:1053.20px"></div>
<div class="bt" style="left:72px;top:1042.55px;line-height:24.3px;letter-spacing:0.13px">стоимость дизельного<br>топлива</div>
<div class="bt" style="left:365px;top:1054.48px;width:157px;text-align:center;font-size:22px;letter-spacing:-0.7px">728</div>
<svg class="ya" style="left:555px;top:1052.20px" viewBox="0 0 16 28"><path d="M13.2 2 H8.6 C4.6 2 2.6 4.6 2.6 7.8 C2.6 11.2 4.6 13.8 8.6 13.8 H13.2 M13.2 1.8 V26.2 M8.6 14.6 L3.2 26.2" stroke="#f23a26" stroke-width="3.4" fill="none" stroke-linecap="round" stroke-linejoin="round"/></svg>
<div class="bt" style="left:590px;top:1056.05px;font-size:21.5px">ru/Москва</div>
<svg class="a" style="left:812px;top:1055.20px" width="14" height="20" viewBox="0 0 14 20"><path d="M7.4 5 V17.6" stroke="#129a4c" stroke-width="2.6" fill="none" stroke-linecap="round"/><path d="M3.2 7.2 L7.4 1.3 L11.6 7.2 Z" fill="#0e9a40" stroke="#0e9a40" stroke-width="0.7" stroke-linejoin="round"/></svg>
<div class="bt" style="left:835px;top:1054.32px;color:#4f9c5c;font-size:21px">1</div>
<div class="c" style="left:875.60px;top:1054.38px;width:103.12px">1</div>
<div class="c" style="left:978.72px;top:1054.38px;width:103.12px">1</div>
<div class="c" style="left:1081.84px;top:1054.38px;width:103.12px">1</div>
<div class="c" style="left:1184.96px;top:1054.38px;width:103.12px">1</div>
<div class="c" style="left:1288.08px;top:1054.38px;width:103.12px">1</div>
<div class="c" style="left:1391.20px;top:1054.38px;width:103.12px">1</div>
<div class="c" style="left:1494.32px;top:1054.38px;width:103.12px">1</div>
<div class="c" style="left:1597.44px;top:1054.38px;width:103.12px">1</div>
<div class="c" style="left:1700.56px;top:1054.38px;width:103.12px">1</div>
<div class="c" style="left:1803.68px;top:1054.38px;width:103.12px">2</div>
<div class="c" style="left:1906.80px;top:1054.38px;width:103.12px">2</div>
<div class="c" style="left:2009.92px;top:1054.38px;width:103.12px">2</div>
<div class="c" style="left:2113.04px;top:1054.38px;width:103.12px">2</div>
<div class="cb" style="left:21.5px;top:1114.08px"></div>
<div class="bt" style="left:72px;top:1103.43px;line-height:24.3px;letter-spacing:0.13px">дизельное топливо купить<br>оптом</div>
<div class="bt" style="left:365px;top:1115.36px;width:157px;text-align:center;font-size:22px;letter-spacing:-0.7px">667</div>
<svg class="ya" style="left:555px;top:1113.08px" viewBox="0 0 16 28"><path d="M13.2 2 H8.6 C4.6 2 2.6 4.6 2.6 7.8 C2.6 11.2 4.6 13.8 8.6 13.8 H13.2 M13.2 1.8 V26.2 M8.6 14.6 L3.2 26.2" stroke="#f23a26" stroke-width="3.4" fill="none" stroke-linecap="round" stroke-linejoin="round"/></svg>
<div class="bt" style="left:590px;top:1116.93px;font-size:21.5px">ru/Москва</div>
<div class="a" style="left:823.5px;top:1126.68px;width:6px;height:2px;background:#7a9868"></div>
<div class="c" style="left:875.60px;top:1115.26px;width:103.12px">1</div>
<div class="c" style="left:978.72px;top:1115.26px;width:103.12px">1</div>
<div class="c" style="left:1081.84px;top:1115.26px;width:103.12px">1</div>
<div class="c" style="left:1184.96px;top:1115.26px;width:103.12px">1</div>
<div class="c" style="left:1288.08px;top:1115.26px;width:103.12px">1</div>
<div class="c" style="left:1391.20px;top:1115.26px;width:103.12px">1</div>
<div class="c" style="left:1494.32px;top:1115.26px;width:103.12px">1</div>
<div class="c" style="left:1597.44px;top:1115.26px;width:103.12px">1</div>
<div class="c" style="left:1700.56px;top:1115.26px;width:103.12px">1</div>
<div class="c" style="left:1803.68px;top:1115.26px;width:103.12px">1</div>
<div class="c" style="left:1906.80px;top:1115.26px;width:103.12px">1</div>
<div class="c" style="left:2009.92px;top:1115.26px;width:103.12px">1</div>
<div class="c" style="left:2113.04px;top:1115.26px;width:103.12px">1</div>
<div class="cb" style="left:21.5px;top:1174.96px"></div>
<div class="bt" style="left:72px;top:1176.46px;letter-spacing:0.13px">стоимость топлива</div>
<div class="bt" style="left:365px;top:1176.24px;width:157px;text-align:center;font-size:22px;letter-spacing:-0.7px">582</div>
<svg class="ya" style="left:555px;top:1173.96px" viewBox="0 0 16 28"><path d="M13.2 2 H8.6 C4.6 2 2.6 4.6 2.6 7.8 C2.6 11.2 4.6 13.8 8.6 13.8 H13.2 M13.2 1.8 V26.2 M8.6 14.6 L3.2 26.2" stroke="#f23a26" stroke-width="3.4" fill="none" stroke-linecap="round" stroke-linejoin="round"/></svg>
<div class="bt" style="left:590px;top:1177.81px;font-size:21.5px">ru/Москва</div>
<svg class="a" style="left:812px;top:1176.96px" width="14" height="20" viewBox="0 0 14 20"><path d="M7.4 5 V17.6" stroke="#129a4c" stroke-width="2.6" fill="none" stroke-linecap="round"/><path d="M3.2 7.2 L7.4 1.3 L11.6 7.2 Z" fill="#0e9a40" stroke="#0e9a40" stroke-width="0.7" stroke-linejoin="round"/></svg>
<div class="bt" style="left:835px;top:1176.08px;color:#4f9c5c;font-size:21px">1</div>
<div class="c" style="left:875.60px;top:1176.14px;width:103.12px">2</div>
<div class="c" style="left:978.72px;top:1176.14px;width:103.12px">3</div>
<div class="c" style="left:1081.84px;top:1176.14px;width:103.12px">2</div>
<div class="c" style="left:1184.96px;top:1176.14px;width:103.12px">2</div>
<div class="c" style="left:1288.08px;top:1176.14px;width:103.12px">8</div>
<div class="c" style="left:1391.20px;top:1176.14px;width:103.12px">3</div>
<div class="c" style="left:1494.32px;top:1176.14px;width:103.12px">2</div>
<div class="c" style="left:1597.44px;top:1176.14px;width:103.12px">2</div>
<div class="c" style="left:1700.56px;top:1176.14px;width:103.12px">2</div>
<div class="c" style="left:1803.68px;top:1176.14px;width:103.12px">3</div>
<div class="c" style="left:1906.80px;top:1176.14px;width:103.12px">3</div>
<div class="c" style="left:2009.92px;top:1176.14px;width:103.12px">3</div>
<div class="c" style="left:2113.04px;top:1176.14px;width:103.12px">3</div>
<div class="cb" style="left:21.5px;top:1235.84px"></div>
<div class="bt" style="left:72px;top:1237.34px;letter-spacing:0.13px">доставка бензина</div>
<div class="bt" style="left:365px;top:1237.12px;width:157px;text-align:center;font-size:22px;letter-spacing:-0.7px">492</div>
<svg class="ya" style="left:555px;top:1234.84px" viewBox="0 0 16 28"><path d="M13.2 2 H8.6 C4.6 2 2.6 4.6 2.6 7.8 C2.6 11.2 4.6 13.8 8.6 13.8 H13.2 M13.2 1.8 V26.2 M8.6 14.6 L3.2 26.2" stroke="#f23a26" stroke-width="3.4" fill="none" stroke-linecap="round" stroke-linejoin="round"/></svg>
<div class="bt" style="left:590px;top:1238.69px;font-size:21.5px">ru/Москва</div>
<svg class="a" style="left:812px;top:1237.84px" width="14" height="20" viewBox="0 0 14 20"><path d="M7.4 5 V17.6" stroke="#129a4c" stroke-width="2.6" fill="none" stroke-linecap="round"/><path d="M3.2 7.2 L7.4 1.3 L11.6 7.2 Z" fill="#0e9a40" stroke="#0e9a40" stroke-width="0.7" stroke-linejoin="round"/></svg>
<div class="bt" style="left:835px;top:1236.96px;color:#4f9c5c;font-size:21px">1</div>
<div class="c" style="left:875.60px;top:1237.02px;width:103.12px">3</div>
<div class="c" style="left:978.72px;top:1237.02px;width:103.12px">1</div>
<div class="c" style="left:1081.84px;top:1237.02px;width:103.12px">3</div>
<div class="c" style="left:1184.96px;top:1237.02px;width:103.12px">3</div>
<div class="c" style="left:1288.08px;top:1237.02px;width:103.12px">4</div>
<div class="c" style="left:1391.20px;top:1237.02px;width:103.12px">5</div>
<div class="c" style="left:1494.32px;top:1237.02px;width:103.12px">6</div>
<div class="c" style="left:1597.44px;top:1237.02px;width:103.12px">4</div>
<div class="c" style="left:1700.56px;top:1237.02px;width:103.12px">3</div>
<div class="c" style="left:1803.68px;top:1237.02px;width:103.12px">3</div>
<div class="c" style="left:1906.80px;top:1237.02px;width:103.12px">2</div>
<div class="c" style="left:2009.92px;top:1237.02px;width:103.12px">3</div>
<div class="c" style="left:2113.04px;top:1237.02px;width:103.12px">4</div>
<div class="cb" style="left:21.5px;top:1296.72px"></div>
<div class="bt" style="left:72px;top:1298.22px;letter-spacing:0.13px">доставка дизельного топлива</div>
<div class="bt" style="left:365px;top:1298.00px;width:157px;text-align:center;font-size:22px;letter-spacing:-0.7px">470</div>
<svg class="ya" style="left:555px;top:1295.72px" viewBox="0 0 16 28"><path d="M13.2 2 H8.6 C4.6 2 2.6 4.6 2.6 7.8 C2.6 11.2 4.6 13.8 8.6 13.8 H13.2 M13.2 1.8 V26.2 M8.6 14.6 L3.2 26.2" stroke="#f23a26" stroke-width="3.4" fill="none" stroke-linecap="round" stroke-linejoin="round"/></svg>
<div class="bt" style="left:590px;top:1299.57px;font-size:21.5px">ru/Москва</div>
<div class="a" style="left:823.5px;top:1309.32px;width:6px;height:2px;background:#7a9868"></div>
<div class="c" style="left:875.60px;top:1297.90px;width:103.12px">1</div>
<div class="c" style="left:978.72px;top:1297.90px;width:103.12px">1</div>
<div class="c" style="left:1081.84px;top:1297.90px;width:103.12px">1</div>
<div class="c" style="left:1184.96px;top:1297.90px;width:103.12px">1</div>
<div class="c" style="left:1288.08px;top:1297.90px;width:103.12px">1</div>
<div class="c" style="left:1391.20px;top:1297.90px;width:103.12px">1</div>
<div class="c" style="left:1494.32px;top:1297.90px;width:103.12px">1</div>
<div class="c" style="left:1597.44px;top:1297.90px;width:103.12px">1</div>
<div class="c" style="left:1700.56px;top:1297.90px;width:103.12px">1</div>
<div class="c" style="left:1803.68px;top:1297.90px;width:103.12px">2</div>
<div class="c" style="left:1906.80px;top:1297.90px;width:103.12px">1</div>
<div class="c" style="left:2009.92px;top:1297.90px;width:103.12px">1</div>
<div class="c" style="left:2113.04px;top:1297.90px;width:103.12px">1</div>
<div class="cb" style="left:21.5px;top:1357.60px"></div>
<div class="bt" style="left:72px;top:1359.10px;letter-spacing:0.13px">купить дизельного топлива</div>
<div class="bt" style="left:365px;top:1358.88px;width:157px;text-align:center;font-size:22px;letter-spacing:-0.7px">450</div>
<svg class="ya" style="left:555px;top:1356.60px" viewBox="0 0 16 28"><path d="M13.2 2 H8.6 C4.6 2 2.6 4.6 2.6 7.8 C2.6 11.2 4.6 13.8 8.6 13.8 H13.2 M13.2 1.8 V26.2 M8.6 14.6 L3.2 26.2" stroke="#f23a26" stroke-width="3.4" fill="none" stroke-linecap="round" stroke-linejoin="round"/></svg>
<div class="bt" style="left:590px;top:1360.45px;font-size:21.5px">ru/Москва</div>
<div class="a" style="left:823.5px;top:1370.20px;width:6px;height:2px;background:#7a9868"></div>
<div class="c" style="left:875.60px;top:1358.78px;width:103.12px">1</div>
<div class="c" style="left:978.72px;top:1358.78px;width:103.12px">1</div>
<div class="c" style="left:1081.84px;top:1358.78px;width:103.12px">1</div>
<div class="c" style="left:1184.96px;top:1358.78px;width:103.12px">1</div>
<div class="c" style="left:1288.08px;top:1358.78px;width:103.12px">1</div>
<div class="c" style="left:1391.20px;top:1358.78px;width:103.12px">1</div>
<div class="c" style="left:1494.32px;top:1358.78px;width:103.12px">1</div>
<div class="c" style="left:1597.44px;top:1358.78px;width:103.12px">1</div>
<div class="c" style="left:1700.56px;top:1358.78px;width:103.12px">1</div>
<div class="c" style="left:1803.68px;top:1358.78px;width:103.12px">2</div>
<div class="c" style="left:1906.80px;top:1358.78px;width:103.12px">1</div>
<div class="c" style="left:2009.92px;top:1358.78px;width:103.12px">2</div>
<div class="c" style="left:2113.04px;top:1358.78px;width:103.12px">1</div>
</body></html>
